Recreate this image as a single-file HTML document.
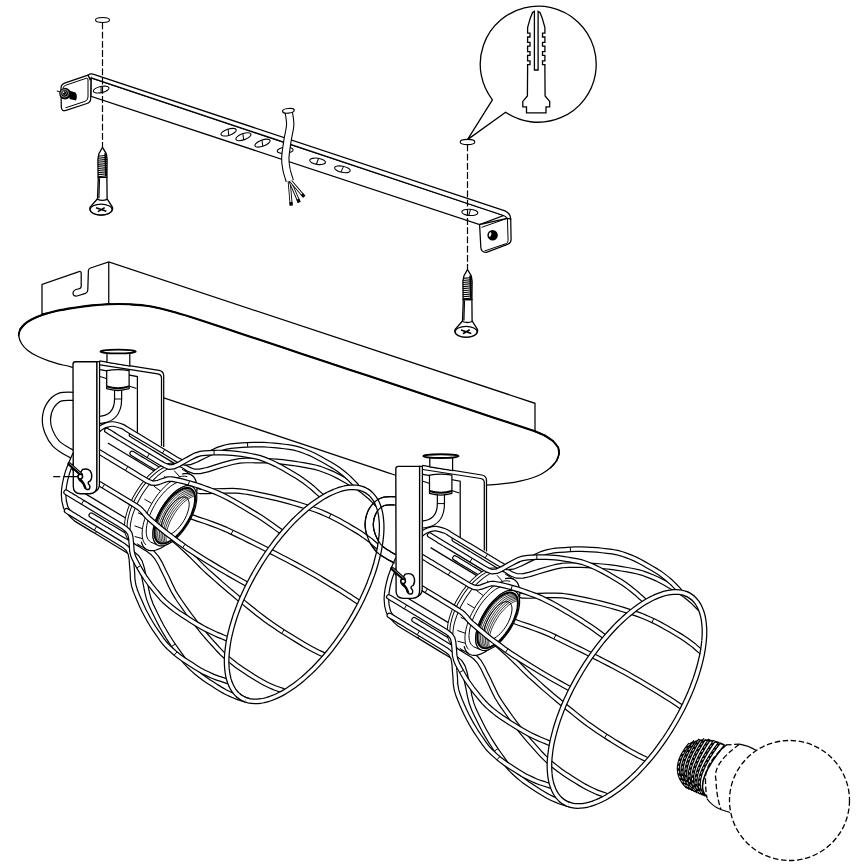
<!DOCTYPE html><html><head><meta charset="utf-8"><title>Assembly</title><style>html,body{margin:0;padding:0;background:#fff}svg{display:block}</style></head><body>
<svg width="868" height="868" viewBox="0 0 868 868">
<rect width="868" height="868" fill="#fff"/>
<defs><g id="lamp"><path d="M72.8 361.7L99.4 360.8L160.2 370.6L163.7 374.5L163.7 448L72.8 448Z" fill="#fff" stroke="none"/>
<path d="M99.4 360.8L159 370.4 Q163.7 371.3 163.7 376 L163.7 447" fill="none" stroke="#000" stroke-width="1.25" />
<path d="M100.1 364.9L157.8 373.9 Q161.5 374.6 161.5 378 L161.5 446" fill="none" stroke="#000" stroke-width="1.25" />
<path d="M100.1 369.7L137.4 376.6 L137.4 436" fill="none" stroke="#000" stroke-width="1.25" />
<path d="M100.1 376.6L136.5 388.5" fill="none" stroke="#000" stroke-width="1.1" />
<path d="M107 353L107 362.3L129.8 366L129.8 353Z" fill="#fff" stroke="#000" stroke-width="1.25" />
<ellipse cx="118.1" cy="351.5" rx="17.6" ry="1.9" fill="#fff" stroke="#000" stroke-width="1.9"/>
<path d="M118.1 388 L118.1 399 C118.1 412 112 420 97 420" fill="none" stroke="#000" stroke-width="8.30" stroke-linecap="butt" stroke-linejoin="round"/><path d="M118.1 388 L118.1 399 C118.1 412 112 420 97 420" fill="none" stroke="#fff" stroke-width="5.90" stroke-linecap="butt" stroke-linejoin="round"/>
<path d="M114.2 399 L122 399" fill="none" stroke="#000" stroke-width="1" />
<path d="M106.7 370.6L106.7 388.7 Q118 392.3 129.1 388.7 L129.1 370.6 Q118 368.6 106.7 370.6Z" fill="#fff" stroke="#000" stroke-width="1.25" />
<path d="M106.7 386.4 Q118 390 129.1 386.4" fill="none" stroke="#000" stroke-width="1.9" />
<path d="M78 396.5C75.1 396.6 65 395.4 60.4 397C55.8 398.6 52.5 402.1 50.2 405.8C47.9 409.5 46.6 414.9 46.4 419.2C46.2 423.5 47.3 427.9 48.9 431.9C50.5 435.9 52.9 440.2 55.8 443.4C58.6 446.5 62.3 448.5 66 450.8C69.7 453.1 76 456 78 457" fill="none" stroke="#000" stroke-width="9.40" stroke-linecap="butt" stroke-linejoin="round"/><path d="M78 396.5C75.1 396.6 65 395.4 60.4 397C55.8 398.6 52.5 402.1 50.2 405.8C47.9 409.5 46.6 414.9 46.4 419.2C46.2 423.5 47.3 427.9 48.9 431.9C50.5 435.9 52.9 440.2 55.8 443.4C58.6 446.5 62.3 448.5 66 450.8C69.7 453.1 76 456 78 457" fill="none" stroke="#fff" stroke-width="7.00" stroke-linecap="butt" stroke-linejoin="round"/>
<path d="M123.8 477.2C124.5 477.6 126.6 478.8 127.9 479.6C129.3 480.4 130.6 481.3 132 482.1C133.4 482.9 134.7 483.7 136.1 484.6C137.4 485.4 138.8 486.2 140.1 487C141.5 487.9 143.5 489.1 144.2 489.5L144.2 489.5 L148.3 492 L152.4 494.4 L156.5 496.9 L160.5 499.4 L164.6 501.8 L168.7 504.3 L172.8 506.8 L176.9 509.3 L181 511.7 L185.4 514.2 L190.9 516.5 L197.6 519 L205 521.4 L212.2 524 L219.4 526.7 L226.1 529.5 L232.1 532.3 L237.8 535.1 L243.4 537.8 L249 540.6 L254.5 543.3 L260 546 L265.3 548.7 L270.6 551.4 L275.8 554 L280.9 556.7 L286 559.3 L291.1 562 L296.1 564.6 L300.9 567.2 L305.4 569.7 L309.9 572.3 L314.4 574.8 L318.7 577.3 L322.8 579.8 L327 582.3 L331.1 584.8 L335.3 587.3 L339.3 589.7 L343.2 592.2 L347 594.6 L350.8 597 L354.3 599.4 L357.8 601.7" fill="none" stroke="#000" stroke-width="5.70" stroke-linecap="round" stroke-linejoin="round"/><path d="M123.8 477.2C124.5 477.6 126.6 478.8 127.9 479.6C129.3 480.4 130.6 481.3 132 482.1C133.4 482.9 134.7 483.7 136.1 484.6C137.4 485.4 138.8 486.2 140.1 487C141.5 487.9 143.5 489.1 144.2 489.5L144.2 489.5 L148.3 492 L152.4 494.4 L156.5 496.9 L160.5 499.4 L164.6 501.8 L168.7 504.3 L172.8 506.8 L176.9 509.3 L181 511.7 L185.4 514.2 L190.9 516.5 L197.6 519 L205 521.4 L212.2 524 L219.4 526.7 L226.1 529.5 L232.1 532.3 L237.8 535.1 L243.4 537.8 L249 540.6 L254.5 543.3 L260 546 L265.3 548.7 L270.6 551.4 L275.8 554 L280.9 556.7 L286 559.3 L291.1 562 L296.1 564.6 L300.9 567.2 L305.4 569.7 L309.9 572.3 L314.4 574.8 L318.7 577.3 L322.8 579.8 L327 582.3 L331.1 584.8 L335.3 587.3 L339.3 589.7 L343.2 592.2 L347 594.6 L350.8 597 L354.3 599.4 L357.8 601.7" fill="none" stroke="#fff" stroke-width="3.30" stroke-linecap="round" stroke-linejoin="round"/><path d="M233 530.4 L231.1 534.3" fill="none" stroke="#000" stroke-width="1" />
<path d="M108.9 499.8C109.6 500.2 111.6 501.4 113 502.2C114.3 503.1 115.7 503.9 117.1 504.7C118.4 505.5 119.8 506.3 121.1 507.2C122.5 508 123.9 508.8 125.2 509.6C126.6 510.5 128.6 511.7 129.3 512.1L129.3 512.1 L133.4 514.6 L137.4 517 L141.5 519.5 L145.6 522 L149.7 524.5 L153.8 526.9 L157.8 529.4 L161.9 531.9 L166 534.4 L170.3 537.2 L175 540.6 L180.3 545.2 L185.9 550.4 L191.4 555.6 L196.8 561 L201.9 566.2 L206.7 570.8 L211.5 575 L216.2 579.2 L220.8 583.3 L225.5 587.3 L230.1 591.3 L234.7 595.1 L239.2 598.9 L243.8 602.6 L248.3 606.2 L252.7 609.8 L257.2 613.4 L261.6 616.8 L266 620.1 L270.3 623.1 L274.5 626 L278.7 628.8 L282.9 631.6 L287 634.1 L291.1 636.7 L295.2 639.2 L299.3 641.7 L303.4 644.2 L307.4 646.5 L311.4 648.7 L315.3 650.8 L319.2 652.7 L323 654.4" fill="none" stroke="#000" stroke-width="5.70" stroke-linecap="round" stroke-linejoin="round"/><path d="M108.9 499.8C109.6 500.2 111.6 501.4 113 502.2C114.3 503.1 115.7 503.9 117.1 504.7C118.4 505.5 119.8 506.3 121.1 507.2C122.5 508 123.9 508.8 125.2 509.6C126.6 510.5 128.6 511.7 129.3 512.1L129.3 512.1 L133.4 514.6 L137.4 517 L141.5 519.5 L145.6 522 L149.7 524.5 L153.8 526.9 L157.8 529.4 L161.9 531.9 L166 534.4 L170.3 537.2 L175 540.6 L180.3 545.2 L185.9 550.4 L191.4 555.6 L196.8 561 L201.9 566.2 L206.7 570.8 L211.5 575 L216.2 579.2 L220.8 583.3 L225.5 587.3 L230.1 591.3 L234.7 595.1 L239.2 598.9 L243.8 602.6 L248.3 606.2 L252.7 609.8 L257.2 613.4 L261.6 616.8 L266 620.1 L270.3 623.1 L274.5 626 L278.7 628.8 L282.9 631.6 L287 634.1 L291.1 636.7 L295.2 639.2 L299.3 641.7 L303.4 644.2 L307.4 646.5 L311.4 648.7 L315.3 650.8 L319.2 652.7 L323 654.4" fill="none" stroke="#fff" stroke-width="3.30" stroke-linecap="round" stroke-linejoin="round"/><path d="M284.1 629.7 L281.7 633.4" fill="none" stroke="#000" stroke-width="1" />
<path d="M132.2 453.4C132.8 453.8 134.9 455 136.2 455.9C137.6 456.7 139 457.5 140.3 458.3C141.7 459.2 143.1 460 144.4 460.8C145.8 461.6 147.1 462.5 148.5 463.3C149.9 464.1 151.9 465.4 152.6 465.8L152.6 465.8 L156.7 468.2 L160.7 470.7 L164.8 473.2 L168.9 475.7 L173 478.1 L177.1 480.6 L181.2 483.1 L185.3 485.5 L189.4 488 L194 490.1 L200 491.3 L207.5 491.4 L215.9 491 L224.1 490.8 L232.3 490.7 L239.8 491.1 L246.5 492 L252.7 493.2 L258.9 494.5 L265 495.8 L271 497.1 L276.9 498.5 L282.7 500 L288.4 501.5 L294 503.1 L299.5 504.7 L304.9 506.4 L310.3 508.1 L315.6 509.9 L320.6 511.8 L325.4 513.9 L330 516 L334.5 518.2 L338.9 520.5 L343.1 522.9 L347.3 525.3 L351.5 527.8 L355.6 530.2 L359.7 532.7 L363.5 535.3 L367.2 538 L370.9 540.7 L374.2 543.7 L377.5 546.6" fill="none" stroke="#000" stroke-width="5.70" stroke-linecap="round" stroke-linejoin="round"/><path d="M132.2 453.4C132.8 453.8 134.9 455 136.2 455.9C137.6 456.7 139 457.5 140.3 458.3C141.7 459.2 143.1 460 144.4 460.8C145.8 461.6 147.1 462.5 148.5 463.3C149.9 464.1 151.9 465.4 152.6 465.8L152.6 465.8 L156.7 468.2 L160.7 470.7 L164.8 473.2 L168.9 475.7 L173 478.1 L177.1 480.6 L181.2 483.1 L185.3 485.5 L189.4 488 L194 490.1 L200 491.3 L207.5 491.4 L215.9 491 L224.1 490.8 L232.3 490.7 L239.8 491.1 L246.5 492 L252.7 493.2 L258.9 494.5 L265 495.8 L271 497.1 L276.9 498.5 L282.7 500 L288.4 501.5 L294 503.1 L299.5 504.7 L304.9 506.4 L310.3 508.1 L315.6 509.9 L320.6 511.8 L325.4 513.9 L330 516 L334.5 518.2 L338.9 520.5 L343.1 522.9 L347.3 525.3 L351.5 527.8 L355.6 530.2 L359.7 532.7 L363.5 535.3 L367.2 538 L370.9 540.7 L374.2 543.7 L377.5 546.6" fill="none" stroke="#fff" stroke-width="3.30" stroke-linecap="round" stroke-linejoin="round"/><path d="M330.9 514 L329.1 518" fill="none" stroke="#000" stroke-width="1" />
<path d="M91.3 515.2C92 515.6 94.1 516.8 95.4 517.6C96.8 518.5 98.2 519.3 99.5 520.1C100.9 520.9 102.2 521.8 103.6 522.6C105 523.4 106.3 524.2 107.7 525.1C109.1 525.9 111.1 527.1 111.8 527.5L111.8 527.5 L115.9 530 L120 532.5 L124.1 535 L128.1 537.4 L132.2 539.9 L136.3 542.4 L140.4 544.9 L144.5 547.4 L148.6 549.9 L152.6 552.9 L156.5 557.3 L160.1 563.3 L163.5 570.5 L167 577.5 L170.3 584.7 L173.6 591.5 L177.1 597.2 L180.7 602.5 L184.3 607.6 L187.9 612.7 L191.5 617.6 L195.2 622.4 L198.9 627.1 L202.6 631.6 L206.3 636 L210.1 640.3 L213.9 644.5 L217.6 648.7 L221.4 652.7 L225.3 656.4 L229.2 659.6 L233.2 662.8 L237.2 665.9 L241.2 668.7 L245.3 671.4 L249.3 674 L253.4 676.6 L257.5 679.1 L261.6 681.5 L265.7 683.7 L269.9 685.7 L274.1 687.6 L278.4 689.1 L282.6 690.5" fill="none" stroke="#000" stroke-width="5.70" stroke-linecap="round" stroke-linejoin="round"/><path d="M91.3 515.2C92 515.6 94.1 516.8 95.4 517.6C96.8 518.5 98.2 519.3 99.5 520.1C100.9 520.9 102.2 521.8 103.6 522.6C105 523.4 106.3 524.2 107.7 525.1C109.1 525.9 111.1 527.1 111.8 527.5L111.8 527.5 L115.9 530 L120 532.5 L124.1 535 L128.1 537.4 L132.2 539.9 L136.3 542.4 L140.4 544.9 L144.5 547.4 L148.6 549.9 L152.6 552.9 L156.5 557.3 L160.1 563.3 L163.5 570.5 L167 577.5 L170.3 584.7 L173.6 591.5 L177.1 597.2 L180.7 602.5 L184.3 607.6 L187.9 612.7 L191.5 617.6 L195.2 622.4 L198.9 627.1 L202.6 631.6 L206.3 636 L210.1 640.3 L213.9 644.5 L217.6 648.7 L221.4 652.7 L225.3 656.4 L229.2 659.6 L233.2 662.8 L237.2 665.9 L241.2 668.7 L245.3 671.4 L249.3 674 L253.4 676.6 L257.5 679.1 L261.6 681.5 L265.7 683.7 L269.9 685.7 L274.1 687.6 L278.4 689.1 L282.6 690.5" fill="none" stroke="#fff" stroke-width="3.30" stroke-linecap="round" stroke-linejoin="round"/><path d="M196.9 621.1 L193.5 623.8" fill="none" stroke="#000" stroke-width="1" />
<path d="M131.6 434.9C132.3 435.3 134.4 436.5 135.7 437.3C137.1 438.2 138.5 439 139.8 439.8C141.2 440.6 142.6 441.5 143.9 442.3C145.3 443.1 146.7 444 148 444.8C149.4 445.6 151.4 446.9 152.1 447.3L152.1 447.3 L156.2 449.7 L160.3 452.2 L164.4 454.7 L168.5 457.2 L172.6 459.7 L176.7 462.2 L180.8 464.6 L184.9 467.1 L189.1 469.5 L193.8 471.3 L199.8 471.4 L207.4 469.7 L215.8 467 L223.9 464.6 L232.1 462.3 L239.5 460.9 L246.1 460.5 L252.3 460.5 L258.4 460.6 L264.5 460.7 L270.5 461 L276.4 461.4 L282.2 461.9 L287.8 462.6 L293.4 463.3 L298.9 464.2 L304.3 465.1 L309.7 466.1 L315 467.2 L320 468.6 L324.7 470.4 L329.4 472.2 L333.9 474.2 L338.2 476.4 L342.5 478.7 L346.7 481.1 L350.8 483.5 L355 485.9 L359 488.4 L362.9 491.2 L366.6 494.2 L370.2 497.2 L373.5 500.6 L376.8 504" fill="none" stroke="#000" stroke-width="5.70" stroke-linecap="round" stroke-linejoin="round"/><path d="M131.6 434.9C132.3 435.3 134.4 436.5 135.7 437.3C137.1 438.2 138.5 439 139.8 439.8C141.2 440.6 142.6 441.5 143.9 442.3C145.3 443.1 146.7 444 148 444.8C149.4 445.6 151.4 446.9 152.1 447.3L152.1 447.3 L156.2 449.7 L160.3 452.2 L164.4 454.7 L168.5 457.2 L172.6 459.7 L176.7 462.2 L180.8 464.6 L184.9 467.1 L189.1 469.5 L193.8 471.3 L199.8 471.4 L207.4 469.7 L215.8 467 L223.9 464.6 L232.1 462.3 L239.5 460.9 L246.1 460.5 L252.3 460.5 L258.4 460.6 L264.5 460.7 L270.5 461 L276.4 461.4 L282.2 461.9 L287.8 462.6 L293.4 463.3 L298.9 464.2 L304.3 465.1 L309.7 466.1 L315 467.2 L320 468.6 L324.7 470.4 L329.4 472.2 L333.9 474.2 L338.2 476.4 L342.5 478.7 L346.7 481.1 L350.8 483.5 L355 485.9 L359 488.4 L362.9 491.2 L366.6 494.2 L370.2 497.2 L373.5 500.6 L376.8 504" fill="none" stroke="#fff" stroke-width="3.30" stroke-linecap="round" stroke-linejoin="round"/><path d="M264.6 458.5 L264.5 462.9" fill="none" stroke="#000" stroke-width="1" />
<path d="M74.5 455C73.2 458.2 68.8 467.7 67 474C65.2 480.3 63.8 487.5 63.6 493C63.4 498.5 64.4 503.5 65.6 507C66.8 510.5 68.8 511.8 70.5 513.8C72.2 515.8 75 518.3 75.9 519.2L75.9 519.2 L80 521.7 L84.1 524.2 L88.2 526.7 L92.3 529.2 L96.4 531.6 L100.5 534.1 L104.6 536.6 L108.7 539.1 L112.8 541.6 L116.9 544.1 L121 546.6 L125.1 549 L129.2 551.6 L133.3 554.2 L137.1 557.3 L140.1 562 L142.2 568.6 L143.8 576.2 L145.4 583.7 L146.9 591.5 L148.7 598.6 L151 604.6 L153.6 610.2 L156.2 615.5 L158.9 620.9 L161.6 626.1 L164.5 631.1 L167.4 636 L170.4 640.7 L173.4 645.3 L176.5 649.7 L179.7 654.1 L182.8 658.5 L186.1 662.6 L189.6 666.3 L193.3 669.7 L197 673 L200.8 676 L204.7 678.9 L208.7 681.6 L212.8 684.2 L216.8 686.8 L220.9 689.3 L225 691.7 L229.3 693.8 L233.7 695.7 L238.2 697.5 L242.9 698.9 L247.5 700.2" fill="none" stroke="#000" stroke-width="5.70" stroke-linecap="round" stroke-linejoin="round"/><path d="M74.5 455C73.2 458.2 68.8 467.7 67 474C65.2 480.3 63.8 487.5 63.6 493C63.4 498.5 64.4 503.5 65.6 507C66.8 510.5 68.8 511.8 70.5 513.8C72.2 515.8 75 518.3 75.9 519.2L75.9 519.2 L80 521.7 L84.1 524.2 L88.2 526.7 L92.3 529.2 L96.4 531.6 L100.5 534.1 L104.6 536.6 L108.7 539.1 L112.8 541.6 L116.9 544.1 L121 546.6 L125.1 549 L129.2 551.6 L133.3 554.2 L137.1 557.3 L140.1 562 L142.2 568.6 L143.8 576.2 L145.4 583.7 L146.9 591.5 L148.7 598.6 L151 604.6 L153.6 610.2 L156.2 615.5 L158.9 620.9 L161.6 626.1 L164.5 631.1 L167.4 636 L170.4 640.7 L173.4 645.3 L176.5 649.7 L179.7 654.1 L182.8 658.5 L186.1 662.6 L189.6 666.3 L193.3 669.7 L197 673 L200.8 676 L204.7 678.9 L208.7 681.6 L212.8 684.2 L216.8 686.8 L220.9 689.3 L225 691.7 L229.3 693.8 L233.7 695.7 L238.2 697.5 L242.9 698.9 L247.5 700.2" fill="none" stroke="#fff" stroke-width="3.30" stroke-linecap="round" stroke-linejoin="round"/><path d="M97.5 529.8 L95.3 533.5" fill="none" stroke="#000" stroke-width="1" /><path d="M175.2 644 L171.6 646.5" fill="none" stroke="#000" stroke-width="1" />
<path d="M362.6 488.9 L364.9 489.9 L367.2 491.2 L369.3 492.7 L371.2 494.4 L373 496.4 L374.6 498.5 L376.1 501 L377.4 503.6 L378.5 506.4 L379.5 509.4 L380.3 512.7 L380.9 516.1 L381.3 519.7 L381.6 523.5 L381.7 527.4 L381.6 531.5 L381.3 535.7 L380.8 540.1 L380.2 544.6 L379.4 549.2 L378.4 553.9 L377.2 558.7 L375.9 563.6 L374.4 568.6 L372.8 573.6 L370.9 578.7 L369 583.8 L366.9 588.9 L364.6 594 L362.2 599.2 L359.7 604.3 L357 609.4 L354.2 614.5 L351.3 619.5 L348.3 624.5 L345.2 629.4 L342 634.2 L338.7 638.9 L335.3 643.6 L331.9 648.1 L328.4 652.5 L324.8 656.7 L321.2 660.8 L317.5 664.8 L313.9 668.6 L310.1 672.2 L306.4 675.6 L302.7 678.9 L299 681.9 L295.3 684.8 L291.6 687.4 L287.9 689.9 L284.3 692.1 L280.7 694.1 L277.2 695.8 L273.7 697.3 L270.3 698.6 L267 699.7 L263.8 700.5 L260.7 701 L257.6 701.3 L254.7 701.4 L251.9 701.2 L249.2 700.8 L246.7 700.1 L244.2 699.2 L241.9 698 L239.8 696.6 L237.8 695" fill="none" stroke="#000" stroke-width="5.80" stroke-linecap="butt" stroke-linejoin="round"/><path d="M362.6 488.9 L364.9 489.9 L367.2 491.2 L369.3 492.7 L371.2 494.4 L373 496.4 L374.6 498.5 L376.1 501 L377.4 503.6 L378.5 506.4 L379.5 509.4 L380.3 512.7 L380.9 516.1 L381.3 519.7 L381.6 523.5 L381.7 527.4 L381.6 531.5 L381.3 535.7 L380.8 540.1 L380.2 544.6 L379.4 549.2 L378.4 553.9 L377.2 558.7 L375.9 563.6 L374.4 568.6 L372.8 573.6 L370.9 578.7 L369 583.8 L366.9 588.9 L364.6 594 L362.2 599.2 L359.7 604.3 L357 609.4 L354.2 614.5 L351.3 619.5 L348.3 624.5 L345.2 629.4 L342 634.2 L338.7 638.9 L335.3 643.6 L331.9 648.1 L328.4 652.5 L324.8 656.7 L321.2 660.8 L317.5 664.8 L313.9 668.6 L310.1 672.2 L306.4 675.6 L302.7 678.9 L299 681.9 L295.3 684.8 L291.6 687.4 L287.9 689.9 L284.3 692.1 L280.7 694.1 L277.2 695.8 L273.7 697.3 L270.3 698.6 L267 699.7 L263.8 700.5 L260.7 701 L257.6 701.3 L254.7 701.4 L251.9 701.2 L249.2 700.8 L246.7 700.1 L244.2 699.2 L241.9 698 L239.8 696.6 L237.8 695" fill="none" stroke="#fff" stroke-width="3.30" stroke-linecap="butt" stroke-linejoin="round"/>
<path d="M79.3 490.1 L78.3 489.3 L77.4 488.2 L76.7 486.8 L76.2 485.2 L75.9 483.4 L75.8 481.4 L75.9 479.2 L76.3 476.9 L76.8 474.4 L77.5 471.9 L78.4 469.3 L79.5 466.7 L80.8 464 L82.2 461.4 L83.7 458.9 L85.4 456.4 L87.1 454.1 L89 451.9 L90.9 449.9 L92.8 448 L94.7 446.4 L96.6 445.1 L98.5 443.9 L100.3 443.1 L102 442.5 L103.7 442.2 L105.2 442.2 L106.6 442.5 L107.8 443 L167.7 479.3 L166.5 478.7 L165.1 478.5 L163.6 478.5 L161.9 478.8 L160.2 479.4 L158.4 480.2 L156.5 481.3 L154.6 482.7 L152.7 484.3 L150.7 486.1 L148.9 488.1 L147 490.3 L145.3 492.7 L143.6 495.1 L142.1 497.7 L140.7 500.3 L139.4 502.9 L138.3 505.6 L137.4 508.2 L136.7 510.7 L136.1 513.1 L135.8 515.5 L135.7 517.7 L135.8 519.7 L136.1 521.5 L136.6 523.1 L137.3 524.4 L138.1 525.5 L139.2 526.3Z" fill="#fff" stroke="none"/>
<path d="M107.8 443 L167.7 479.3" fill="none" stroke="#000" stroke-width="1.25" />
<path d="M79.3 490.1 L139.2 526.3" fill="none" stroke="#000" stroke-width="1.25" />
<path d="M176.4 465.9 L178.1 467.2 L179.5 468.9 L180.6 471 L181.4 473.4 L181.8 476.2 L182 479.3 L181.8 482.7 L181.4 486.2 L180.6 490 L179.5 494 L178.1 498 L176.5 502.1 L174.6 506.2 L172.4 510.3 L170.1 514.3 L167.6 518.1 L164.9 521.8 L162.1 525.3 L159.2 528.5 L156.2 531.5 L153.2 534.1 L150.2 536.3 L147.3 538.2 L144.4 539.7 L141.6 540.8 L139 541.4 L136.6 541.7 L134.3 541.4 L132.3 540.8 L130.5 539.7 L129 538.2 L127.7 536.3 L126.8 534 L126.1 531.4 L125.8 528.5 L125.8 525.2 L126.1 521.7 L126.7 518.1 L127.7 514.2 L128.9 510.2 L130.4 506.1 L132.2 502 L134.2 497.9 L136.5 493.9 L138.9 490 L141.5 486.2 L144.3 482.6 L147.2 479.2 L150.1 476.1 L153.1 473.4 L156.1 470.9 L159 468.8 L161.9 467.1 L164.8 465.9 L167.5 465 L170 464.6 L172.4 464.6 L174.5 465 L176.4 465.9Z" fill="#fff" stroke="none"/>
<path d="M176.4 465.9 L178.1 467.2 L179.5 468.9 L180.6 471 L181.4 473.4 L181.8 476.2 L182 479.3 L181.8 482.7 L181.4 486.2 L180.6 490 L179.5 494 L178.1 498 L176.5 502.1 L174.6 506.2 L172.4 510.3 L170.1 514.3 L167.6 518.1 L164.9 521.8 L162.1 525.3 L159.2 528.5 L156.2 531.5 L153.2 534.1 L150.2 536.3 L147.3 538.2 L144.4 539.7 L141.6 540.8 L139 541.4 L136.6 541.7 L134.3 541.4 L132.3 540.8 L130.5 539.7 L129 538.2 L127.7 536.3 L126.8 534 L126.1 531.4 L125.8 528.5 L125.8 525.2 L126.1 521.7 L126.7 518.1 L127.7 514.2 L128.9 510.2 L130.4 506.1 L132.2 502 L134.2 497.9 L136.5 493.9 L138.9 490 L141.5 486.2 L144.3 482.6 L147.2 479.2 L150.1 476.1 L153.1 473.4 L156.1 470.9 L159 468.8 L161.9 467.1 L164.8 465.9 L167.5 465 L170 464.6 L172.4 464.6 L174.5 465 L176.4 465.9Z" fill="none" stroke="#000" stroke-width="3.60" stroke-linecap="butt" stroke-linejoin="round"/><path d="M176.4 465.9 L178.1 467.2 L179.5 468.9 L180.6 471 L181.4 473.4 L181.8 476.2 L182 479.3 L181.8 482.7 L181.4 486.2 L180.6 490 L179.5 494 L178.1 498 L176.5 502.1 L174.6 506.2 L172.4 510.3 L170.1 514.3 L167.6 518.1 L164.9 521.8 L162.1 525.3 L159.2 528.5 L156.2 531.5 L153.2 534.1 L150.2 536.3 L147.3 538.2 L144.4 539.7 L141.6 540.8 L139 541.4 L136.6 541.7 L134.3 541.4 L132.3 540.8 L130.5 539.7 L129 538.2 L127.7 536.3 L126.8 534 L126.1 531.4 L125.8 528.5 L125.8 525.2 L126.1 521.7 L126.7 518.1 L127.7 514.2 L128.9 510.2 L130.4 506.1 L132.2 502 L134.2 497.9 L136.5 493.9 L138.9 490 L141.5 486.2 L144.3 482.6 L147.2 479.2 L150.1 476.1 L153.1 473.4 L156.1 470.9 L159 468.8 L161.9 467.1 L164.8 465.9 L167.5 465 L170 464.6 L172.4 464.6 L174.5 465 L176.4 465.9Z" fill="none" stroke="#fff" stroke-width="1.70" stroke-linecap="butt" stroke-linejoin="round"/>
<path d="M182 469.2 L183.6 470.5 L185 472.2 L186.1 474.3 L186.9 476.8 L187.4 479.6 L187.6 482.7 L187.4 486 L186.9 489.6 L186.2 493.4 L185.1 497.3 L183.7 501.4 L182.1 505.5 L180.1 509.6 L178 513.6 L175.7 517.6 L173.1 521.5 L170.4 525.2 L167.6 528.7 L164.7 531.9 L161.7 534.8 L158.8 537.4 L155.8 539.7 L152.8 541.6 L150 543.1 L147.2 544.2 L144.6 544.8 L142.1 545 L139.9 544.8 L137.8 544.2 L136 543.1 L134.5 541.6 L133.3 539.7 L132.3 537.4 L131.7 534.8 L131.4 531.8 L131.4 528.6 L131.7 525.1 L132.3 521.4 L133.2 517.6 L134.5 513.6 L136 509.5 L137.8 505.4 L139.8 501.3 L142 497.3 L144.5 493.3 L147.1 489.6 L149.8 486 L152.7 482.6 L155.7 479.5 L158.6 476.7 L161.6 474.3 L164.6 472.2 L167.5 470.5 L170.3 469.2 L173 468.4 L175.6 467.9 L177.9 467.9 L180.1 468.4 L182 469.2Z" fill="#fff" stroke="none"/>
<path d="M182 469.2 L183.6 470.5 L185 472.2 L186.1 474.3 L186.9 476.8 L187.4 479.6 L187.6 482.7 L187.4 486 L186.9 489.6 L186.2 493.4 L185.1 497.3 L183.7 501.4 L182.1 505.5 L180.1 509.6 L178 513.6 L175.7 517.6 L173.1 521.5 L170.4 525.2 L167.6 528.7 L164.7 531.9 L161.7 534.8 L158.8 537.4 L155.8 539.7 L152.8 541.6 L150 543.1 L147.2 544.2 L144.6 544.8 L142.1 545 L139.9 544.8 L137.8 544.2 L136 543.1 L134.5 541.6 L133.3 539.7 L132.3 537.4 L131.7 534.8 L131.4 531.8 L131.4 528.6 L131.7 525.1 L132.3 521.4 L133.2 517.6 L134.5 513.6 L136 509.5 L137.8 505.4 L139.8 501.3 L142 497.3 L144.5 493.3 L147.1 489.6 L149.8 486 L152.7 482.6 L155.7 479.5 L158.6 476.7 L161.6 474.3 L164.6 472.2 L167.5 470.5 L170.3 469.2 L173 468.4 L175.6 467.9 L177.9 467.9 L180.1 468.4 L182 469.2Z" fill="none" stroke="#000" stroke-width="3.60" stroke-linecap="butt" stroke-linejoin="round"/><path d="M182 469.2 L183.6 470.5 L185 472.2 L186.1 474.3 L186.9 476.8 L187.4 479.6 L187.6 482.7 L187.4 486 L186.9 489.6 L186.2 493.4 L185.1 497.3 L183.7 501.4 L182.1 505.5 L180.1 509.6 L178 513.6 L175.7 517.6 L173.1 521.5 L170.4 525.2 L167.6 528.7 L164.7 531.9 L161.7 534.8 L158.8 537.4 L155.8 539.7 L152.8 541.6 L150 543.1 L147.2 544.2 L144.6 544.8 L142.1 545 L139.9 544.8 L137.8 544.2 L136 543.1 L134.5 541.6 L133.3 539.7 L132.3 537.4 L131.7 534.8 L131.4 531.8 L131.4 528.6 L131.7 525.1 L132.3 521.4 L133.2 517.6 L134.5 513.6 L136 509.5 L137.8 505.4 L139.8 501.3 L142 497.3 L144.5 493.3 L147.1 489.6 L149.8 486 L152.7 482.6 L155.7 479.5 L158.6 476.7 L161.6 474.3 L164.6 472.2 L167.5 470.5 L170.3 469.2 L173 468.4 L175.6 467.9 L177.9 467.9 L180.1 468.4 L182 469.2Z" fill="none" stroke="#fff" stroke-width="1.70" stroke-linecap="butt" stroke-linejoin="round"/>
<path d="M136.9 543.7 L135.2 542.3 L133.8 540.6 L132.7 538.5 L131.9 535.9 L131.5 533.1 L131.3 529.9 L131.5 526.5 L132 522.8 L132.9 518.9 L134 514.9 L135.5 510.8 L137.2 506.6 L139.2 502.4 L141.4 498.3 L143.9 494.3 L146.5 490.4 L149.3 486.7 L152.2 483.2 L155.1 480 L158.2 477.1 L161.2 474.6 L164.2 472.4 L167.2 470.7 L170.1 469.3 L172.8 468.4 L175.4 467.9 L177.8 467.9 L180 468.4 L182 469.2 L191.4 474.9 L189.4 474.1 L187.2 473.6 L184.8 473.6 L182.2 474.1 L179.5 475 L176.6 476.4 L173.6 478.1 L170.6 480.3 L167.6 482.8 L164.5 485.7 L161.6 488.9 L158.7 492.4 L155.9 496.1 L153.3 500 L150.8 504 L148.6 508.1 L146.6 512.3 L144.9 516.5 L143.4 520.6 L142.3 524.6 L141.4 528.5 L140.9 532.2 L140.7 535.6 L140.9 538.8 L141.3 541.6 L142.1 544.2 L143.2 546.3 L144.6 548 L146.3 549.4Z" fill="#fff" stroke="none"/>
<path d="M191.4 474.9 L193 476.2 L194.4 477.9 L195.5 480 L196.3 482.5 L196.8 485.3 L197 488.4 L196.8 491.7 L196.3 495.3 L195.6 499.1 L194.5 503 L193.1 507.1 L191.5 511.2 L189.6 515.3 L187.4 519.3 L185.1 523.3 L182.5 527.2 L179.8 530.9 L177 534.4 L174.1 537.6 L171.2 540.5 L168.2 543.1 L165.2 545.4 L162.2 547.3 L159.4 548.8 L156.6 549.9 L154 550.5 L151.5 550.7 L149.3 550.5 L147.2 549.8 L145.5 548.8 L143.9 547.3 L142.7 545.4 L141.7 543.1 L141.1 540.5 L140.8 537.5 L140.8 534.3 L141.1 530.8 L141.7 527.1 L142.6 523.3 L143.9 519.3 L145.4 515.2 L147.2 511.1 L149.2 507 L151.4 503 L153.9 499 L156.5 495.2 L159.3 491.7 L162.1 488.3 L165.1 485.2 L168 482.4 L171 480 L174 477.9 L176.9 476.2 L179.7 474.9 L182.4 474.1 L185 473.6 L187.3 473.6 L189.5 474.1 L191.4 474.9Z" fill="#fff" stroke="none"/>
<path d="M182.2 474.1 L184.1 473.7 L186 473.6 L187.8 473.7 L189.4 474.1 L190.9 474.7 L192.3 475.6 L193.5 476.7 L194.5 478 L195.4 479.6 L196 481.4 L196.5 483.5 L196.8 485.7 L197 488 L196.9 490.6 L196.6 493.3 L196.2 496.1 L195.6 499 L194.8 502 L193.8 505.1 L192.7 508.2 L191.4 511.4 L189.9 514.6 L188.3 517.7 L186.6 520.8 L184.7 523.9 L182.8 526.8 L180.7 529.7 L178.6 532.4 L176.4 535.1 L174.2 537.5 L171.9 539.8 L169.6 541.9 L167.3 543.8 L165 545.5 L162.7 547 L160.5 548.2 L158.3 549.2 L156.2 550 L154.2 550.5 L152.3 550.7 L150.5 550.7 L148.8 550.4 L147.3 549.9 L145.9 549.1 L144.6 548 L143.5 546.8 L142.6 545.2 L141.9 543.5 L141.3 541.6" fill="none" stroke="#000" stroke-width="1.25" />
<path d="M182 469.2 L191.4 474.9" fill="none" stroke="#000" stroke-width="1" />
<path d="M136.9 543.7 L146.3 549.4" fill="none" stroke="#000" stroke-width="1" />
<path d="M134.7 536.5 L142.7 538.7" fill="none" stroke="#000" stroke-width="1" />
<path d="M134.5 525.8 L142.5 528.7" fill="none" stroke="#000" stroke-width="1" />
<path d="M137.9 512.8 L145.7 516.4" fill="none" stroke="#000" stroke-width="1" />
<path d="M144.4 499.1 L151.8 503.5" fill="none" stroke="#000" stroke-width="1" />
<path d="M153.7 486 L160.6 491.1" fill="none" stroke="#000" stroke-width="1" />
<path d="M164.1 476 L170.4 481.8" fill="none" stroke="#000" stroke-width="1" />
<path d="M174.2 470.7 L179.8 476.8" fill="none" stroke="#000" stroke-width="1" />
<path d="M146 544.9 L145 543.9 L144.2 542.7 L143.5 541.3 L142.9 539.7 L142.5 538 L142.3 536.1 L142.1 534 L142.2 531.9 L142.4 529.6 L142.7 527.2 L143.2 524.8 L143.8 522.2 L144.6 519.6 L145.4 517 L146.5 514.3 L147.6 511.6 L148.9 508.9 L150.3 506.2 L151.8 503.6 L153.3 501 L155 498.4 L156.7 496 L158.5 493.6 L160.4 491.3 L162.3 489.2 L164.2 487.2 L166.2 485.3 L168.1 483.5 L170.1 482 L172.1 480.6 L174 479.4 L175.9 478.3 L177.7 477.5 L179.5 476.9 L181.2 476.4 L182.9 476.2 L184.5 476.2 L185.9 476.4 L187.3 476.7" fill="none" stroke="#000" stroke-width="1" />
<path d="M150.7 542.1 L149.4 541 L148.2 539.6 L147.3 537.9 L146.7 535.9 L146.3 533.6 L146.2 531 L146.4 528.3 L146.8 525.3 L147.5 522.2 L148.4 518.9 L149.6 515.6 L151 512.3 L152.6 508.9 L154.4 505.6 L156.3 502.3 L158.4 499.2 L160.7 496.2 L163 493.5 L165.4 490.9 L167.8 488.6 L170.3 486.5 L172.7 484.8 L175.1 483.4 L177.4 482.3 L179.6 481.5 L181.7 481.2 L183.7 481.2 L185.4 481.5 L187 482.2 L192.5 486.7 L190.9 486 L189.2 485.7 L187.3 485.7 L185.3 486 L183.2 486.8 L180.9 487.8 L178.6 489.2 L176.2 490.9 L173.8 492.9 L171.5 495.1 L169.1 497.6 L166.9 500.3 L164.7 503.2 L162.7 506.3 L160.8 509.4 L159 512.6 L157.5 515.9 L156.1 519.1 L155 522.4 L154.1 525.5 L153.4 528.5 L153 531.4 L152.9 534.1 L153 536.6 L153.3 538.8 L154 540.8 L154.8 542.5 L155.9 543.8 L157.2 544.9Z" fill="#fff" stroke="#000" stroke-width="1.00" />
<path d="M192.5 486.7 L193.8 487.7 L194.8 489 L195.7 490.7 L196.3 492.6 L196.7 494.8 L196.8 497.2 L196.7 499.8 L196.3 502.6 L195.7 505.6 L194.9 508.7 L193.8 511.8 L192.5 515 L191 518.2 L189.3 521.4 L187.5 524.5 L185.5 527.5 L183.4 530.4 L181.2 533.1 L179 535.7 L176.6 538 L174.3 540 L172 541.8 L169.7 543.2 L167.4 544.4 L165.3 545.3 L163.2 545.8 L161.3 545.9 L159.5 545.8 L158 545.2 L156.6 544.4 L155.4 543.2 L154.4 541.7 L153.6 540 L153.1 537.9 L152.9 535.6 L152.9 533.1 L153.1 530.4 L153.6 527.5 L154.4 524.5 L155.3 521.3 L156.5 518.2 L157.9 514.9 L159.5 511.7 L161.2 508.6 L163.1 505.5 L165.2 502.6 L167.3 499.8 L169.6 497.1 L171.9 494.7 L174.2 492.5 L176.5 490.6 L178.9 489 L181.1 487.7 L183.3 486.7 L185.4 486 L187.4 485.7 L189.3 485.7 L191 486 L192.5 486.7Z" fill="#fff" stroke="#000" stroke-width="1.20" />
<path d="M191.1 488.9 L192.3 489.9 L193.3 491.1 L194.1 492.6 L194.7 494.4 L195 496.4 L195.1 498.6 L195 501 L194.7 503.6 L194.1 506.4 L193.3 509.2 L192.3 512.1 L191.2 515.1 L189.8 518 L188.2 521 L186.5 523.8 L184.7 526.6 L182.8 529.3 L180.7 531.8 L178.6 534.1 L176.5 536.3 L174.3 538.1 L172.2 539.8 L170.1 541.1 L168 542.2 L166 543 L164.1 543.5 L162.3 543.6 L160.7 543.5 L159.2 543 L158 542.2 L156.9 541.1 L156 539.8 L155.3 538.1 L154.8 536.2 L154.6 534.1 L154.6 531.8 L154.8 529.2 L155.2 526.6 L155.9 523.8 L156.8 520.9 L157.9 518 L159.2 515 L160.6 512.1 L162.3 509.1 L164 506.3 L165.9 503.6 L167.9 501 L170 498.6 L172.1 496.3 L174.3 494.3 L176.4 492.6 L178.6 491.1 L180.7 489.8 L182.7 488.9 L184.6 488.3 L186.5 488 L188.2 488 L189.7 488.3 L191.1 488.9Z" fill="#fff" stroke="#000" stroke-width="2.00" />
<clipPath id="rimclip"><path d="M190.7 489.6 L191.9 490.5 L192.8 491.7 L193.6 493.2 L194.2 494.9 L194.5 496.9 L194.6 499 L194.5 501.4 L194.2 503.9 L193.6 506.6 L192.9 509.4 L191.9 512.2 L190.7 515.1 L189.4 518 L187.9 520.8 L186.2 523.6 L184.5 526.4 L182.6 528.9 L180.6 531.4 L178.5 533.7 L176.5 535.7 L174.4 537.6 L172.3 539.2 L170.2 540.5 L168.2 541.5 L166.2 542.3 L164.4 542.8 L162.7 542.9 L161.1 542.8 L159.6 542.3 L158.4 541.5 L157.3 540.5 L156.4 539.1 L155.8 537.5 L155.3 535.7 L155.1 533.6 L155.1 531.4 L155.3 528.9 L155.7 526.3 L156.4 523.6 L157.3 520.8 L158.3 517.9 L159.6 515 L161 512.2 L162.6 509.3 L164.3 506.5 L166.2 503.9 L168.1 501.4 L170.1 499 L172.2 496.8 L174.3 494.9 L176.4 493.1 L178.5 491.7 L180.5 490.5 L182.5 489.6 L184.4 489 L186.2 488.7 L187.8 488.7 L189.3 489 L190.7 489.6Z"/></clipPath>
<g clip-path="url(#rimclip)"><path d="M168.2 543.1 L166.3 543.7 L164.5 544 L162.8 544 L161.3 543.6 L159.9 543 L158.7 542 L157.8 540.7 L157 539.2 L156.5 537.4 L156.2 535.4 L156.1 533.1 L156.2 530.7 L156.6 528 L157.2 525.3 L158 522.5 L159.1 519.5 L160.3 516.6 L161.7 513.6 L163.3 510.7 L165 507.9 L166.9 505.1 L168.8 502.5 L170.9 500.1 L173 497.8 L175.1 495.8 L177.3 494 L179.4 492.4 L181.5 491.1 L183.5 490.2 L185.5 489.5 L187.3 489.1 L189.1 489.1 L190.6 489.4 L192 489.9 L193.2 490.8 L194.3 492 L195.1 493.5 L195.7 495.2 L196 497.2" fill="none" stroke="#000" stroke-width="0.8" /><path d="M169.7 543.8 L167.8 544.4 L166 544.6 L164.4 544.6 L162.9 544.3 L161.5 543.6 L160.4 542.6 L159.4 541.4 L158.7 539.9 L158.1 538.1 L157.8 536.1 L157.7 533.8 L157.9 531.4 L158.3 528.8 L158.9 526.1 L159.7 523.3 L160.7 520.4 L161.9 517.5 L163.3 514.6 L164.9 511.7 L166.6 508.8 L168.4 506.1 L170.4 503.5 L172.4 501.1 L174.5 498.9 L176.6 496.8 L178.7 495 L180.8 493.5 L182.9 492.3 L184.9 491.3 L186.9 490.6 L188.7 490.3 L190.4 490.2 L191.9 490.5 L193.3 491.1 L194.5 492 L195.5 493.1 L196.3 494.6 L196.9 496.3 L197.3 498.3" fill="none" stroke="#000" stroke-width="0.8" /><path d="M171.3 544.4 L169.4 545 L167.6 545.3 L166 545.2 L164.5 544.9 L163.1 544.2 L162 543.3 L161 542 L160.3 540.5 L159.8 538.8 L159.5 536.8 L159.4 534.5 L159.5 532.1 L159.9 529.6 L160.5 526.9 L161.3 524.1 L162.3 521.2 L163.5 518.4 L164.9 515.5 L166.4 512.6 L168.1 509.8 L170 507.1 L171.9 504.6 L173.9 502.1 L175.9 499.9 L178 497.9 L180.2 496.1 L182.2 494.6 L184.3 493.4 L186.3 492.4 L188.2 491.8 L190 491.4 L191.7 491.4 L193.2 491.6 L194.6 492.2 L195.8 493.1 L196.8 494.3 L197.6 495.7 L198.2 497.4 L198.5 499.4" fill="none" stroke="#000" stroke-width="0.8" /><path d="M172.8 545 L170.9 545.6 L169.2 545.9 L167.5 545.8 L166.1 545.5 L164.7 544.8 L163.6 543.9 L162.7 542.7 L161.9 541.2 L161.4 539.4 L161.1 537.5 L161 535.3 L161.2 532.9 L161.5 530.3 L162.1 527.7 L162.9 524.9 L163.9 522.1 L165.1 519.2 L166.5 516.4 L168 513.5 L169.7 510.8 L171.5 508.1 L173.4 505.6 L175.4 503.2 L177.4 501 L179.5 499 L181.6 497.2 L183.7 495.7 L185.7 494.5 L187.7 493.6 L189.6 492.9 L191.4 492.6 L193 492.5 L194.6 492.8 L195.9 493.4 L197.1 494.2 L198.1 495.4 L198.9 496.8 L199.5 498.5 L199.8 500.4" fill="none" stroke="#000" stroke-width="0.8" /><path d="M174.3 545.6 L172.5 546.2 L170.7 546.5 L169.1 546.4 L167.7 546.1 L166.3 545.5 L165.2 544.5 L164.3 543.3 L163.6 541.8 L163.1 540.1 L162.8 538.2 L162.7 536 L162.8 533.6 L163.2 531.1 L163.8 528.5 L164.6 525.7 L165.6 522.9 L166.7 520.1 L168.1 517.3 L169.6 514.5 L171.3 511.7 L173 509.1 L174.9 506.6 L176.9 504.2 L178.9 502.1 L181 500.1 L183 498.3 L185.1 496.9 L187.1 495.6 L189.1 494.7 L190.9 494.1 L192.7 493.7 L194.4 493.7 L195.9 493.9 L197.2 494.5 L198.4 495.4 L199.4 496.5 L200.1 497.9 L200.7 499.6 L201.1 501.5" fill="none" stroke="#000" stroke-width="0.8" /><path d="M175.9 546.3 L174 546.8 L172.3 547.1 L170.7 547.1 L169.2 546.7 L168 546.1 L166.8 545.2 L165.9 544 L165.2 542.5 L164.7 540.8 L164.4 538.9 L164.3 536.7 L164.5 534.4 L164.8 531.9 L165.4 529.3 L166.2 526.6 L167.2 523.8 L168.3 521 L169.7 518.2 L171.2 515.4 L172.8 512.7 L174.6 510.1 L176.5 507.6 L178.4 505.3 L180.4 503.1 L182.4 501.2 L184.5 499.4 L186.5 498 L188.5 496.8 L190.5 495.8 L192.3 495.2 L194.1 494.9 L195.7 494.8 L197.2 495.1 L198.5 495.6 L199.7 496.5 L200.6 497.6 L201.4 499 L202 500.7 L202.3 502.6" fill="none" stroke="#000" stroke-width="0.8" /><path d="M177.4 546.9 L175.6 547.4 L173.9 547.7 L172.3 547.7 L170.8 547.3 L169.6 546.7 L168.5 545.8 L167.6 544.6 L166.8 543.2 L166.3 541.5 L166.1 539.5 L166 537.4 L166.1 535.1 L166.5 532.7 L167 530.1 L167.8 527.4 L168.8 524.6 L169.9 521.9 L171.3 519.1 L172.8 516.4 L174.4 513.7 L176.1 511.1 L178 508.6 L179.9 506.3 L181.9 504.2 L183.9 502.2 L185.9 500.5 L187.9 499.1 L189.9 497.9 L191.8 497 L193.7 496.3 L195.4 496 L197 496 L198.5 496.2 L199.8 496.8 L201 497.6 L201.9 498.7 L202.7 500.1 L203.2 501.8 L203.6 503.6" fill="none" stroke="#000" stroke-width="0.8" /><path d="M186.4 497.6 L187.4 498.4 L188.1 499.5 L188.7 500.9 L189.1 502.5 L189.2 504.3 L189.1 506.3 L188.7 508.5 L188.1 510.8 L187.4 513.2 L186.4 515.6 L185.3 518.1 L183.9 520.5 L182.5 522.8 L180.9 525 L179.2 527.1 L177.5 529 L175.7 530.7 L173.9 532.1 L172.2 533.3 L170.5 534.2 L168.8 534.8 L167.3 535.1 L165.9 535.1 L164.7 534.7 L163.6 534.1 L162.7 533.1 L162.1 531.9 L161.6 530.4 L161.4 528.7 L161.4 526.8 L161.6 524.7 L162.1 522.4 L162.7 520.1 L163.6 517.7 L164.7 515.2 L165.9 512.8 L167.3 510.4 L168.8 508.1 L170.5 506 L172.2 504 L173.9 502.2 L175.7 500.6 L177.5 499.3 L179.2 498.3 L180.9 497.5 L182.5 497.1 L183.9 497 L185.3 497.2 L186.4 497.6Z" fill="none" stroke="#000" stroke-width="1" /></g>
<path d="M96 432C96.8 431.3 98.8 429.1 100.5 428C102.2 426.9 103.9 426 106 425.3C108.1 424.6 110.3 423.8 113 424C115.7 424.2 120.1 425.7 122.4 426.5C124.6 427.3 125.8 428.6 126.5 429L126.5 429 L130.6 431.5 L134.7 434 L138.9 436.5 L143 439 L147.1 441.4 L151.2 443.9 L155.3 446.4 L159.4 448.9 L163.6 451.4 L167.7 453.9 L171.8 456.4 L175.9 458.9 L180.1 461.2 L184.7 462.9 L190.4 462.3 L197.1 459.6 L204.4 456 L211.5 452.5 L218.6 449.2 L225 447.2 L230.8 446.1 L236.5 445.6 L242.1 445.2 L247.6 444.8 L253.1 444.6 L258.5 444.6 L263.8 444.7 L269 445 L274.2 445.3 L279.3 445.9 L284.4 446.5 L289.4 447.1 L294.4 448 L299.1 449.3 L303.6 450.9 L308.1 452.6 L312.5 454.5 L316.8 456.7 L321 459 L325.2 461.4 L329.4 463.8 L333.5 466.2 L337.6 468.8 L341.5 471.8 L345.3 474.8 L349 478.1 L352.6 481.7 L356.1 485.3" fill="none" stroke="#000" stroke-width="5.70" stroke-linecap="round" stroke-linejoin="round"/><path d="M96 432C96.8 431.3 98.8 429.1 100.5 428C102.2 426.9 103.9 426 106 425.3C108.1 424.6 110.3 423.8 113 424C115.7 424.2 120.1 425.7 122.4 426.5C124.6 427.3 125.8 428.6 126.5 429L126.5 429 L130.6 431.5 L134.7 434 L138.9 436.5 L143 439 L147.1 441.4 L151.2 443.9 L155.3 446.4 L159.4 448.9 L163.6 451.4 L167.7 453.9 L171.8 456.4 L175.9 458.9 L180.1 461.2 L184.7 462.9 L190.4 462.3 L197.1 459.6 L204.4 456 L211.5 452.5 L218.6 449.2 L225 447.2 L230.8 446.1 L236.5 445.6 L242.1 445.2 L247.6 444.8 L253.1 444.6 L258.5 444.6 L263.8 444.7 L269 445 L274.2 445.3 L279.3 445.9 L284.4 446.5 L289.4 447.1 L294.4 448 L299.1 449.3 L303.6 450.9 L308.1 452.6 L312.5 454.5 L316.8 456.7 L321 459 L325.2 461.4 L329.4 463.8 L333.5 466.2 L337.6 468.8 L341.5 471.8 L345.3 474.8 L349 478.1 L352.6 481.7 L356.1 485.3" fill="none" stroke="#fff" stroke-width="3.30" stroke-linecap="round" stroke-linejoin="round"/><path d="M164.7 449.5 L162.4 453.3" fill="none" stroke="#000" stroke-width="1" /><path d="M247.5 442.6 L247.7 447" fill="none" stroke="#000" stroke-width="1" />
<path d="M66.6 510.8C67.3 511.3 69.4 512.5 70.8 513.3C72.1 514.2 73.5 515 74.9 515.8C76.2 516.7 77.6 517.5 79 518.3C80.4 519.2 81.7 520 83.1 520.8C84.5 521.7 86.6 522.9 87.2 523.3L87.2 523.3 L91.4 525.8 L95.5 528.3 L99.6 530.8 L103.7 533.3 L107.9 535.8 L112 538.3 L116.1 540.8 L120.2 543.3 L124.2 545.9 L127.9 549 L130.3 553.4 L131.4 559.3 L131.8 565.9 L132.4 572.5 L132.7 579.3 L133.7 585.4 L135.4 590.8 L137.4 595.8 L139.5 600.7 L141.6 605.5 L143.8 610.2 L146.2 614.8 L148.6 619.2 L151.2 623.6 L153.8 627.8 L156.6 631.9 L159.4 635.9 L162.2 640 L165.2 643.8 L168.5 647.2 L172 650.4 L175.6 653.6 L179.3 656.5 L183.2 659.3 L187.2 661.9 L191.3 664.5 L195.3 667.1 L199.4 669.6 L203.6 672 L208.1 674.1 L212.6 676.2 L217.3 678 L222.2 679.5 L227.1 681.2" fill="none" stroke="#000" stroke-width="5.70" stroke-linecap="round" stroke-linejoin="round"/><path d="M66.6 510.8C67.3 511.3 69.4 512.5 70.8 513.3C72.1 514.2 73.5 515 74.9 515.8C76.2 516.7 77.6 517.5 79 518.3C80.4 519.2 81.7 520 83.1 520.8C84.5 521.7 86.6 522.9 87.2 523.3L87.2 523.3 L91.4 525.8 L95.5 528.3 L99.6 530.8 L103.7 533.3 L107.9 535.8 L112 538.3 L116.1 540.8 L120.2 543.3 L124.2 545.9 L127.9 549 L130.3 553.4 L131.4 559.3 L131.8 565.9 L132.4 572.5 L132.7 579.3 L133.7 585.4 L135.4 590.8 L137.4 595.8 L139.5 600.7 L141.6 605.5 L143.8 610.2 L146.2 614.8 L148.6 619.2 L151.2 623.6 L153.8 627.8 L156.6 631.9 L159.4 635.9 L162.2 640 L165.2 643.8 L168.5 647.2 L172 650.4 L175.6 653.6 L179.3 656.5 L183.2 659.3 L187.2 661.9 L191.3 664.5 L195.3 667.1 L199.4 669.6 L203.6 672 L208.1 674.1 L212.6 676.2 L217.3 678 L222.2 679.5 L227.1 681.2" fill="none" stroke="#fff" stroke-width="3.30" stroke-linecap="round" stroke-linejoin="round"/><path d="M96.6 526.4 L94.4 530.2" fill="none" stroke="#000" stroke-width="1" /><path d="M177 651.9 L174.2 655.2" fill="none" stroke="#000" stroke-width="1" />
<path d="M106.9 430.5C107.6 431 109.7 432.2 111 433C112.4 433.9 113.8 434.7 115.2 435.6C116.6 436.4 117.9 437.2 119.3 438.1C120.7 438.9 122.1 439.7 123.4 440.6C124.8 441.4 126.9 442.6 127.6 443.1L127.6 443.1 L131.7 445.6 L135.8 448.1 L140 450.6 L144.1 453.1 L148.2 455.6 L152.4 458.1 L156.5 460.6 L160.7 463.1 L164.8 465.4 L169.2 467.1 L174 466.6 L179.2 464.2 L184.6 461 L189.9 458.1 L195.1 455.3 L200 453.7 L204.7 453.1 L209.4 452.8 L214 452.6 L218.6 452.5 L223.2 452.6 L227.8 452.8 L232.3 453.1 L236.8 453.6 L241.3 454.2 L245.8 454.9 L250.2 455.7 L254.7 456.5 L259.1 457.5 L263.4 459 L267.7 460.7 L271.9 462.6 L276.1 464.6 L280.3 466.8 L284.5 469.1 L288.6 471.5 L292.8 474 L296.9 476.4 L301 479.1 L305.1 482 L309.1 485.1 L313.1 488.3 L317 491.9 L321 495.3" fill="none" stroke="#000" stroke-width="5.70" stroke-linecap="round" stroke-linejoin="round"/><path d="M106.9 430.5C107.6 431 109.7 432.2 111 433C112.4 433.9 113.8 434.7 115.2 435.6C116.6 436.4 117.9 437.2 119.3 438.1C120.7 438.9 122.1 439.7 123.4 440.6C124.8 441.4 126.9 442.6 127.6 443.1L127.6 443.1 L131.7 445.6 L135.8 448.1 L140 450.6 L144.1 453.1 L148.2 455.6 L152.4 458.1 L156.5 460.6 L160.7 463.1 L164.8 465.4 L169.2 467.1 L174 466.6 L179.2 464.2 L184.6 461 L189.9 458.1 L195.1 455.3 L200 453.7 L204.7 453.1 L209.4 452.8 L214 452.6 L218.6 452.5 L223.2 452.6 L227.8 452.8 L232.3 453.1 L236.8 453.6 L241.3 454.2 L245.8 454.9 L250.2 455.7 L254.7 456.5 L259.1 457.5 L263.4 459 L267.7 460.7 L271.9 462.6 L276.1 464.6 L280.3 466.8 L284.5 469.1 L288.6 471.5 L292.8 474 L296.9 476.4 L301 479.1 L305.1 482 L309.1 485.1 L313.1 488.3 L317 491.9 L321 495.3" fill="none" stroke="#fff" stroke-width="3.30" stroke-linecap="round" stroke-linejoin="round"/><path d="M149.4 453.7 L147.1 457.5" fill="none" stroke="#000" stroke-width="1" /><path d="M214 450.4 L214.1 454.8" fill="none" stroke="#000" stroke-width="1" />
<path d="M66.1 492.3C66.8 492.7 68.9 494 70.2 494.8C71.6 495.6 73 496.5 74.4 497.3C75.8 498.1 77.1 499 78.5 499.8C79.9 500.6 81.3 501.5 82.6 502.3C84 503.2 86.1 504.4 86.8 504.8L86.8 504.8 L90.9 507.3 L95.1 509.8 L99.2 512.3 L103.3 514.8 L107.5 517.4 L111.6 519.9 L115.8 522.4 L119.9 524.9 L123.9 527.4 L127.5 530.2 L129.8 533.5 L130.8 537.6 L131.2 542 L131.6 546.4 L131.9 551 L132.9 555.3 L134.6 559.3 L136.6 563.1 L138.7 566.8 L140.8 570.5 L143 574.2 L145.3 577.7 L147.8 581.2 L150.3 584.7 L153 588 L155.7 591.4 L158.5 594.7 L161.3 598 L164.3 601.1 L167.7 604.1 L171.2 607 L174.8 609.8 L178.6 612.5 L182.5 615.1 L186.5 617.7 L190.6 620.3 L194.6 622.8 L198.8 625.3 L203 627.7 L207.5 630.1 L212.1 632.3 L216.8 634.5 L221.8 636.5 L226.6 638.6" fill="none" stroke="#000" stroke-width="5.70" stroke-linecap="round" stroke-linejoin="round"/><path d="M66.1 492.3C66.8 492.7 68.9 494 70.2 494.8C71.6 495.6 73 496.5 74.4 497.3C75.8 498.1 77.1 499 78.5 499.8C79.9 500.6 81.3 501.5 82.6 502.3C84 503.2 86.1 504.4 86.8 504.8L86.8 504.8 L90.9 507.3 L95.1 509.8 L99.2 512.3 L103.3 514.8 L107.5 517.4 L111.6 519.9 L115.8 522.4 L119.9 524.9 L123.9 527.4 L127.5 530.2 L129.8 533.5 L130.8 537.6 L131.2 542 L131.6 546.4 L131.9 551 L132.9 555.3 L134.6 559.3 L136.6 563.1 L138.7 566.8 L140.8 570.5 L143 574.2 L145.3 577.7 L147.8 581.2 L150.3 584.7 L153 588 L155.7 591.4 L158.5 594.7 L161.3 598 L164.3 601.1 L167.7 604.1 L171.2 607 L174.8 609.8 L178.6 612.5 L182.5 615.1 L186.5 617.7 L190.6 620.3 L194.6 622.8 L198.8 625.3 L203 627.7 L207.5 630.1 L212.1 632.3 L216.8 634.5 L221.8 636.5 L226.6 638.6" fill="none" stroke="#fff" stroke-width="3.30" stroke-linecap="round" stroke-linejoin="round"/><path d="M83.8 500.4 L81.5 504.2" fill="none" stroke="#000" stroke-width="1" /><path d="M140.6 565.7 L136.7 567.9" fill="none" stroke="#000" stroke-width="1" />
<path d="M89.4 445.9C90 446.4 92.1 447.6 93.5 448.4C94.9 449.3 96.3 450.1 97.6 451C99 451.8 100.4 452.6 101.8 453.5C103.2 454.3 104.6 455.1 105.9 456C107.3 456.8 109.4 458.1 110.1 458.5L110.1 458.5 L114.2 461 L118.4 463.5 L122.5 466 L126.7 468.5 L130.8 471 L134.9 473.5 L139.1 476.1 L143.2 478.5 L147.3 481 L151.4 482.8 L155.1 483.2 L158.5 482.4 L161.8 481.1 L165 480 L168.1 479.1 L171.3 479 L174.7 479.6 L178.3 480.3 L181.8 481.1 L185.3 482 L188.9 482.9 L192.5 484 L196.2 485.1 L199.8 486.3 L203.5 487.6 L207.3 489 L211 490.4 L214.8 491.8 L218.6 493.4 L222.5 495.3 L226.5 497.3 L230.5 499.4 L234.5 501.6 L238.6 504 L242.7 506.4 L246.8 508.8 L250.9 511.3 L255.1 513.8 L259.3 516.4 L263.5 519.2 L267.8 522.1 L272.1 525.1 L276.5 528.3 L280.8 531.4" fill="none" stroke="#000" stroke-width="5.70" stroke-linecap="round" stroke-linejoin="round"/><path d="M89.4 445.9C90 446.4 92.1 447.6 93.5 448.4C94.9 449.3 96.3 450.1 97.6 451C99 451.8 100.4 452.6 101.8 453.5C103.2 454.3 104.6 455.1 105.9 456C107.3 456.8 109.4 458.1 110.1 458.5L110.1 458.5 L114.2 461 L118.4 463.5 L122.5 466 L126.7 468.5 L130.8 471 L134.9 473.5 L139.1 476.1 L143.2 478.5 L147.3 481 L151.4 482.8 L155.1 483.2 L158.5 482.4 L161.8 481.1 L165 480 L168.1 479.1 L171.3 479 L174.7 479.6 L178.3 480.3 L181.8 481.1 L185.3 482 L188.9 482.9 L192.5 484 L196.2 485.1 L199.8 486.3 L203.5 487.6 L207.3 489 L211 490.4 L214.8 491.8 L218.6 493.4 L222.5 495.3 L226.5 497.3 L230.5 499.4 L234.5 501.6 L238.6 504 L242.7 506.4 L246.8 508.8 L250.9 511.3 L255.1 513.8 L259.3 516.4 L263.5 519.2 L267.8 522.1 L272.1 525.1 L276.5 528.3 L280.8 531.4" fill="none" stroke="#fff" stroke-width="3.30" stroke-linecap="round" stroke-linejoin="round"/><path d="M127.8 466.6 L125.5 470.4" fill="none" stroke="#000" stroke-width="1" /><path d="M189.5 480.8 L188.3 485" fill="none" stroke="#000" stroke-width="1" />
<path d="M74.4 468.5C75.1 469 77.2 470.2 78.6 471.1C79.9 471.9 81.3 472.7 82.7 473.6C84.1 474.4 85.5 475.2 86.9 476.1C88.2 476.9 89.6 477.7 91 478.6C92.4 479.4 94.5 480.7 95.1 481.1L95.1 481.1 L99.3 483.6 L103.4 486.1 L107.6 488.6 L111.7 491.1 L115.9 493.6 L120 496.2 L124.2 498.7 L128.3 501.2 L132.4 503.7 L136.1 506 L138.9 507.8 L140.7 509.4 L142.1 510.9 L143.6 512.4 L144.9 514.2 L146.7 516.3 L149 518.5 L151.6 520.7 L154.2 523 L156.8 525.2 L159.5 527.5 L162.3 529.8 L165.2 532.1 L168.1 534.4 L171.2 536.7 L174.3 539 L177.4 541.3 L180.6 543.7 L183.9 546 L187.4 548.5 L191.1 550.9 L194.9 553.3 L198.8 555.8 L202.8 558.3 L206.8 560.8 L210.9 563.3 L215 565.8 L219.1 568.3 L223.4 570.8 L227.8 573.4 L232.3 575.9 L236.9 578.5 L241.7 581.2 L246.3 583.7" fill="none" stroke="#000" stroke-width="5.70" stroke-linecap="round" stroke-linejoin="round"/><path d="M74.4 468.5C75.1 469 77.2 470.2 78.6 471.1C79.9 471.9 81.3 472.7 82.7 473.6C84.1 474.4 85.5 475.2 86.9 476.1C88.2 476.9 89.6 477.7 91 478.6C92.4 479.4 94.5 480.7 95.1 481.1L95.1 481.1 L99.3 483.6 L103.4 486.1 L107.6 488.6 L111.7 491.1 L115.9 493.6 L120 496.2 L124.2 498.7 L128.3 501.2 L132.4 503.7 L136.1 506 L138.9 507.8 L140.7 509.4 L142.1 510.9 L143.6 512.4 L144.9 514.2 L146.7 516.3 L149 518.5 L151.6 520.7 L154.2 523 L156.8 525.2 L159.5 527.5 L162.3 529.8 L165.2 532.1 L168.1 534.4 L171.2 536.7 L174.3 539 L177.4 541.3 L180.6 543.7 L183.9 546 L187.4 548.5 L191.1 550.9 L194.9 553.3 L198.8 555.8 L202.8 558.3 L206.8 560.8 L210.9 563.3 L215 565.8 L219.1 568.3 L223.4 570.8 L227.8 573.4 L232.3 575.9 L236.9 578.5 L241.7 581.2 L246.3 583.7" fill="none" stroke="#fff" stroke-width="3.30" stroke-linecap="round" stroke-linejoin="round"/><path d="M104.6 484.2 L102.3 488" fill="none" stroke="#000" stroke-width="1" /><path d="M185.1 544.2 L182.6 547.9" fill="none" stroke="#000" stroke-width="1" />
<path d="M245.7 699.8 L243.4 698.8 L241.1 697.5 L239 696 L237.1 694.3 L235.3 692.3 L233.7 690.2 L232.2 687.7 L230.9 685.1 L229.8 682.3 L228.8 679.3 L228 676 L227.4 672.6 L227 669 L226.7 665.2 L226.6 661.3 L226.7 657.2 L227 653 L227.5 648.6 L228.1 644.1 L228.9 639.5 L229.9 634.8 L231.1 630 L232.4 625.1 L233.9 620.1 L235.5 615.1 L237.4 610 L239.3 604.9 L241.4 599.8 L243.7 594.7 L246.1 589.5 L248.6 584.4 L251.3 579.3 L254.1 574.2 L257 569.2 L260 564.2 L263.1 559.3 L266.3 554.5 L269.6 549.8 L273 545.1 L276.4 540.6 L279.9 536.2 L283.5 532 L287.1 527.9 L290.8 523.9 L294.4 520.1 L298.2 516.5 L301.9 513.1 L305.6 509.8 L309.3 506.8 L313 503.9 L316.7 501.3 L320.4 498.8 L324 496.6 L327.6 494.6 L331.1 492.9 L334.6 491.4 L338 490.1 L341.3 489 L344.5 488.2 L347.6 487.7 L350.7 487.4 L353.6 487.3 L356.4 487.5 L359.1 487.9 L361.6 488.6 L364.1 489.5 L366.4 490.7 L368.5 492.1 L370.5 493.7" fill="none" stroke="#000" stroke-width="5.80" stroke-linecap="butt" stroke-linejoin="round"/><path d="M245.7 699.8 L243.4 698.8 L241.1 697.5 L239 696 L237.1 694.3 L235.3 692.3 L233.7 690.2 L232.2 687.7 L230.9 685.1 L229.8 682.3 L228.8 679.3 L228 676 L227.4 672.6 L227 669 L226.7 665.2 L226.6 661.3 L226.7 657.2 L227 653 L227.5 648.6 L228.1 644.1 L228.9 639.5 L229.9 634.8 L231.1 630 L232.4 625.1 L233.9 620.1 L235.5 615.1 L237.4 610 L239.3 604.9 L241.4 599.8 L243.7 594.7 L246.1 589.5 L248.6 584.4 L251.3 579.3 L254.1 574.2 L257 569.2 L260 564.2 L263.1 559.3 L266.3 554.5 L269.6 549.8 L273 545.1 L276.4 540.6 L279.9 536.2 L283.5 532 L287.1 527.9 L290.8 523.9 L294.4 520.1 L298.2 516.5 L301.9 513.1 L305.6 509.8 L309.3 506.8 L313 503.9 L316.7 501.3 L320.4 498.8 L324 496.6 L327.6 494.6 L331.1 492.9 L334.6 491.4 L338 490.1 L341.3 489 L344.5 488.2 L347.6 487.7 L350.7 487.4 L353.6 487.3 L356.4 487.5 L359.1 487.9 L361.6 488.6 L364.1 489.5 L366.4 490.7 L368.5 492.1 L370.5 493.7" fill="none" stroke="#fff" stroke-width="3.30" stroke-linecap="butt" stroke-linejoin="round"/>
<path d="M96.6 361.7 L99.6 361.7 L99.4 485 Q99 489.5 95.5 491.5 L96.6 480Z" fill="#fff" stroke="#000" stroke-width="1.25" />
<path d="M75.5 361.7 L96.8 361.7 L96.8 486.5 Q96.8 493.7 89.5 493.7 L80.5 493.7 Q73.3 493.7 73.3 486.5 L73 364.5 Q73 361.7 75.5 361.7Z" fill="#fff" stroke="#000" stroke-width="1.35" />
<path d="M82.5 469.5 Q90 467.5 91.6 474 Q92.3 478.5 90.2 481 Q88 481.5 88.2 483.5 Q91 486.5 89.3 489 Q86 490.5 84.5 487 Q84 483 81 481.5 Q77.8 479.5 78.3 475.5Z" fill="#fff" stroke="#000" stroke-width="1.4"/>
<path d="M80 479.5 Q83.5 482 85.5 488.3" stroke="#000" stroke-width="2.2" fill="none"/>
<path d="M69.2 463.8 L81.3 474.6" stroke="#000" stroke-width="3.6" fill="none" stroke-linecap="round"/>
<path d="M69.6 463.5 L81 473.7" stroke="#fff" stroke-width="0.6" fill="none"/>
<circle cx="80.3" cy="476.6" r="2.3" fill="#fff" stroke="#000" stroke-width="1.5"/></g></defs>
<path d="M91 78 L503.5 215.5 L479.6 224.6 L91 96.3Z" fill="#fff" stroke="#000" stroke-width="1.25" />
<path d="M88 75.2 Q90.5 73.2 93 74.2 L505 210.8 Q510.3 213 510.7 219 L507 218.4 Q506 216.3 503.5 215.5 L92 78.2 Q90.5 77.8 90 79.5Z" fill="#fff" stroke="#000" stroke-width="1.25" />
<g transform="translate(101.2 89.6) rotate(-12)"><ellipse rx="8" ry="3.1" fill="#fff" stroke="#000" stroke-width="1.1"/><path d="M0.5 -3.1 L-0.8 3.1" stroke="#000" stroke-width="1" fill="none"/></g>
<g transform="translate(228.6 132.2) rotate(-18)"><ellipse rx="8" ry="3.1" fill="#fff" stroke="#000" stroke-width="1.1"/><path d="M0.5 -3.1 L-0.8 3.1" stroke="#000" stroke-width="1" fill="none"/></g>
<g transform="translate(243.4 136.7) rotate(-20)"><ellipse rx="8" ry="3.1" fill="#fff" stroke="#000" stroke-width="1.1"/><path d="M0.5 -3.1 L-0.8 3.1" stroke="#000" stroke-width="1" fill="none"/></g>
<g transform="translate(262.5 143.1) rotate(-20)"><ellipse rx="8" ry="3.1" fill="#fff" stroke="#000" stroke-width="1.1"/><path d="M0.5 -3.1 L-0.8 3.1" stroke="#000" stroke-width="1" fill="none"/></g>
<g transform="translate(285.2 150.4) rotate(-5)"><ellipse rx="8" ry="3.1" fill="#fff" stroke="#000" stroke-width="1.1"/><path d="M0.5 -3.1 L-0.8 3.1" stroke="#000" stroke-width="1" fill="none"/></g>
<g transform="translate(317.6 161.3) rotate(8)"><ellipse rx="8" ry="3.1" fill="#fff" stroke="#000" stroke-width="1.1"/><path d="M0.5 -3.1 L-0.8 3.1" stroke="#000" stroke-width="1" fill="none"/></g>
<g transform="translate(342.4 169.3) rotate(12)"><ellipse rx="8" ry="3.1" fill="#fff" stroke="#000" stroke-width="1.1"/><path d="M0.5 -3.1 L-0.8 3.1" stroke="#000" stroke-width="1" fill="none"/></g>
<g transform="translate(469.8 212.4) rotate(4)"><ellipse rx="8" ry="3.1" fill="#fff" stroke="#000" stroke-width="1.1"/><path d="M0.5 -3.1 L-0.8 3.1" stroke="#000" stroke-width="1" fill="none"/></g>
<path d="M479.6 224.6 L480.8 247 Q481 252.6 486.5 252.3 L507.4 244.4 Q511.1 243 511.1 239.5 L510.7 219 L507 218.4Z" fill="#fff" stroke="#000" stroke-width="1.25" />
<path d="M481.6 227.4 L507 218.4" fill="none" stroke="#000" stroke-width="1" />
<path d="M507.4 218.6 L508.1 240.3 Q508.1 242.8 506.2 243.6 L484.5 251" fill="none" stroke="#000" stroke-width="1" />
<ellipse cx="492.6" cy="235.3" rx="5.2" ry="5.2" fill="#000"/><ellipse cx="490.1" cy="234.5" rx="1.2" ry="2.2" fill="#fff" transform="rotate(15 490.1 234.5)"/>
<path d="M88 75.2 L64.5 83.2 Q61 84.5 61 88.5 L61.3 107 Q61.5 111.8 66 110.4 L87 103.5 Q90.7 102.2 90.7 98.5 L91 78 L90 79.5Z" fill="#fff" stroke="#000" stroke-width="1.25" />
<path d="M63 88 Q63.5 86 65.5 85.3 L86.5 78.2 Q88 78 88 80 L88 97 Q88 100.3 85 101.4 L65.5 107.8" fill="none" stroke="#000" stroke-width="1" />
<path d="M69 90.5 L75.5 92.5 Q78 96 76 100.5 L69.5 99Z" fill="#000"/>
<circle cx="65" cy="93.6" r="5.8" fill="#000"/><circle cx="64.6" cy="93.3" r="3.9" fill="none" stroke="#fff" stroke-width="0.55"/><circle cx="64.3" cy="93" r="2.2" fill="none" stroke="#fff" stroke-width="0.45"/><circle cx="63.6" cy="92.2" r="0.8" fill="#fff"/>
<path d="M56.8 91 L60 91.8" stroke="#000" stroke-width="1" fill="none"/>
<path d="M289 179 L291.2 205.5" fill="none" stroke="#000" stroke-width="3.00" stroke-linecap="butt" stroke-linejoin="round"/><path d="M289 179 L291.2 205.5" fill="none" stroke="#fff" stroke-width="1.20" stroke-linecap="butt" stroke-linejoin="round"/>
<path d="M290.9 202 L291.2 205.5" stroke="#000" stroke-width="3" fill="none"/>
<path d="M289 179 L299.2 202.3" fill="none" stroke="#000" stroke-width="3.00" stroke-linecap="butt" stroke-linejoin="round"/><path d="M289 179 L299.2 202.3" fill="none" stroke="#fff" stroke-width="1.20" stroke-linecap="butt" stroke-linejoin="round"/>
<path d="M297.8 199.1 L299.2 202.3" stroke="#000" stroke-width="3" fill="none"/>
<path d="M289 179 L304.2 196.8" fill="none" stroke="#000" stroke-width="3.00" stroke-linecap="butt" stroke-linejoin="round"/><path d="M289 179 L304.2 196.8" fill="none" stroke="#fff" stroke-width="1.20" stroke-linecap="butt" stroke-linejoin="round"/>
<path d="M301.9 194.1 L304.2 196.8" stroke="#000" stroke-width="3" fill="none"/>
<path d="M288.6 111.5C288.9 113.8 290.4 120.2 290.2 125C290 129.8 288.4 134.5 287.6 140C286.8 145.5 285.5 153 285.3 158C285.1 163 285.9 166.2 286.6 170C287.4 173.8 289.3 179.2 289.8 181" fill="none" stroke="#000" stroke-width="8.40" stroke-linecap="butt" stroke-linejoin="round"/><path d="M288.6 111.5C288.9 113.8 290.4 120.2 290.2 125C290 129.8 288.4 134.5 287.6 140C286.8 145.5 285.5 153 285.3 158C285.1 163 285.9 166.2 286.6 170C287.4 173.8 289.3 179.2 289.8 181" fill="none" stroke="#fff" stroke-width="6.20" stroke-linecap="butt" stroke-linejoin="round"/>
<ellipse cx="288.4" cy="110.8" rx="5.9" ry="2.3" fill="#fff" stroke="#000" stroke-width="1.2" transform="rotate(-6 288.4 110.8)"/>
<path d="M102.5 22.5 L102.5 147" fill="none" stroke="#000" stroke-width="1.2" stroke-dasharray="6.8 2.4"/>
<path d="M467.5 144.5 L467.5 269" fill="none" stroke="#000" stroke-width="1.2" stroke-dasharray="6.8 2.4"/>
<ellipse cx="102.5" cy="20" rx="7" ry="2.5" fill="#fff" stroke="#000" stroke-width="1.1"/>
<path d="M492.4 99.8 L467.5 139.6 L505.6 112.2 A58 58 0 1 0 492.4 99.8 Z" fill="#fff" stroke="#000" stroke-width="1.30" />
<path d="M534.4 11.4 L532.5 12.5 L530.2 18.4 L527.6 27.6 L527.6 33.2 L530 33.2 L530 37 L527.6 37 L527.6 42.4 L530 42.4 L530 46.2 L527.6 46.2 L527.6 51.6 L530 51.6 L530 55.4 L527.6 55.4 L527.6 60.8 L530 60.8 L530 64.6 L527.6 64.6 L527.6 70 L527.4 95.9 L522.8 101.4 L522.8 106.9 L526.5 106.9 L526.5 112.8 L546 112.8 L546 106.9 L549.7 106.9 L549.7 101.4 L545.1 95.9 L544.9 70 L544.9 64.6 L542.5 64.6 L542.5 60.8 L544.9 60.8 L544.9 55.4 L542.5 55.4 L542.5 51.6 L544.9 51.6 L544.9 46.2 L542.5 46.2 L542.5 42.4 L544.9 42.4 L544.9 37 L542.5 37 L542.5 33.2 L544.9 33.2 L544.9 27.6 L542.3 18.4 L540 12.5 L538.1 11.4 L538.1 11.4 L538.1 70 L534.4 70Z" fill="#fff" stroke="#000" stroke-width="1.30" />
<ellipse cx="467.5" cy="142" rx="7.3" ry="2.6" fill="none" stroke="#000" stroke-width="1.1"/>
<g transform="translate(102.5 147.3)">
<path d="M-5 51.5 L-12.5 60 Q-13.5 63.5 -9 66 Q-1.5 69.5 6.5 66 Q11 63.5 10 60 L4.6 51.5Z" fill="#fff" stroke="#000" stroke-width="1.3"/>
<ellipse cx="-1.4" cy="62.3" rx="11" ry="5.4" fill="#fff" stroke="#000" stroke-width="1.3"/>
<path d="M-6.5 60.5 L3.8 64 M-4.6 64.3 L2.2 60.3" stroke="#000" stroke-width="1.6" fill="none"/>
<path d="M-4.2 30 L-5 52 Q0 54 4.6 52 L4.4 30Z" fill="#fff" stroke="#000" stroke-width="1.3"/>
<path d="M-3 31 L-3.6 51" stroke="#000" stroke-width="1.2" fill="none"/>
<path d="M0 0 L-3.6 6.5 L-4.6 12 L-4.4 30 L4.4 30 L4.6 12 L3.8 6.5Z" fill="#fff" stroke="#000" stroke-width="1.3"/>
<path d="M-4.6 8.9 L4.6 8" stroke="#000" stroke-width="1.1" fill="none"/>
<path d="M-4.6 11 L4.6 10.1" stroke="#000" stroke-width="1.1" fill="none"/>
<path d="M-4.6 13 L4.6 12.1" stroke="#000" stroke-width="1.1" fill="none"/>
<path d="M-4.6 15 L4.6 14.1" stroke="#000" stroke-width="1.1" fill="none"/>
<path d="M-4.6 17.1 L4.6 16.2" stroke="#000" stroke-width="1.1" fill="none"/>
<path d="M-4.6 19.1 L4.6 18.2" stroke="#000" stroke-width="1.1" fill="none"/>
<path d="M-4.6 21.2 L4.6 20.3" stroke="#000" stroke-width="1.1" fill="none"/>
<path d="M-4.6 23.2 L4.6 22.3" stroke="#000" stroke-width="1.1" fill="none"/>
<path d="M-4.6 25.3 L4.6 24.4" stroke="#000" stroke-width="1.1" fill="none"/>
<path d="M-4.6 27.3 L4.6 26.4" stroke="#000" stroke-width="1.1" fill="none"/>
<path d="M-4.6 29.4 L4.6 28.5" stroke="#000" stroke-width="1.1" fill="none"/>
<path d="M2.6 6 L3.4 29" stroke="#000" stroke-width="1.6" fill="none"/>
</g>
<g transform="translate(467.5 269.5)">
<path d="M-5 51.5 L-12.5 60 Q-13.5 63.5 -9 66 Q-1.5 69.5 6.5 66 Q11 63.5 10 60 L4.6 51.5Z" fill="#fff" stroke="#000" stroke-width="1.3"/>
<ellipse cx="-1.4" cy="62.3" rx="11" ry="5.4" fill="#fff" stroke="#000" stroke-width="1.3"/>
<path d="M-6.5 60.5 L3.8 64 M-4.6 64.3 L2.2 60.3" stroke="#000" stroke-width="1.6" fill="none"/>
<path d="M-4.2 30 L-5 52 Q0 54 4.6 52 L4.4 30Z" fill="#fff" stroke="#000" stroke-width="1.3"/>
<path d="M-3 31 L-3.6 51" stroke="#000" stroke-width="1.2" fill="none"/>
<path d="M0 0 L-3.6 6.5 L-4.6 12 L-4.4 30 L4.4 30 L4.6 12 L3.8 6.5Z" fill="#fff" stroke="#000" stroke-width="1.3"/>
<path d="M-4.6 8.9 L4.6 8" stroke="#000" stroke-width="1.1" fill="none"/>
<path d="M-4.6 11 L4.6 10.1" stroke="#000" stroke-width="1.1" fill="none"/>
<path d="M-4.6 13 L4.6 12.1" stroke="#000" stroke-width="1.1" fill="none"/>
<path d="M-4.6 15 L4.6 14.1" stroke="#000" stroke-width="1.1" fill="none"/>
<path d="M-4.6 17.1 L4.6 16.2" stroke="#000" stroke-width="1.1" fill="none"/>
<path d="M-4.6 19.1 L4.6 18.2" stroke="#000" stroke-width="1.1" fill="none"/>
<path d="M-4.6 21.2 L4.6 20.3" stroke="#000" stroke-width="1.1" fill="none"/>
<path d="M-4.6 23.2 L4.6 22.3" stroke="#000" stroke-width="1.1" fill="none"/>
<path d="M-4.6 25.3 L4.6 24.4" stroke="#000" stroke-width="1.1" fill="none"/>
<path d="M-4.6 27.3 L4.6 26.4" stroke="#000" stroke-width="1.1" fill="none"/>
<path d="M-4.6 29.4 L4.6 28.5" stroke="#000" stroke-width="1.1" fill="none"/>
<path d="M2.6 6 L3.4 29" stroke="#000" stroke-width="1.6" fill="none"/>
</g>
<path d="M42 313.8 L42 284.5 L79 271.6 Q81.2 271 81.2 273.5 L81.2 286.5 Q81 288.8 78 289 Q73.5 289.5 73 293 Q73 296.5 77 296 L85.5 293.3 Q87.8 292.5 87.8 290 L88.4 270.5 Q88.5 268.7 90.5 268 L108.75 262 L535 403.3 L535 431.3 L108.75 303.8Z" fill="#fff" stroke="#000" stroke-width="1.25" />
<path d="M108.75 262L108.75 303.8" fill="none" stroke="#000" stroke-width="1.25" />
<path d="M59.9 364.4C56.1 363.4 53.8 362.6 50 361.3C46.2 360 41.1 358.1 37.4 356.3C33.6 354.5 30.1 352.4 27.5 350.3C24.9 348.2 23 346 21.5 343.5C20 341 18.9 337.7 18.7 335.4C18.5 333.1 19.2 331.4 20.2 329.5C21.2 327.6 22.5 326 24.5 324.3C26.5 322.6 29.1 320.8 32 319.3C34.9 317.8 37.8 316.5 42 315.1C46.2 313.7 51.5 312 57 310.8C62.5 309.6 69.1 308.6 74.9 307.7C80.7 306.8 86.4 306 92 305.4C97.6 304.8 102.3 304.4 108.6 304.2C114.9 304 123.1 303.9 130 304.3C136.9 304.7 142.5 305 150 306.3C157.5 307.6 166.7 310 175 312.3C183.3 314.6 188.9 316.4 200 320C211.1 323.6 227.9 329.3 241.9 333.9C255.8 338.6 269.8 343.2 283.8 347.8C297.7 352.5 311.7 357.1 325.6 361.7C339.6 366.4 353.5 371 367.5 375.6C381.5 380.3 395.4 384.9 409.4 389.6C423.3 394.2 437.3 398.8 451.2 403.5C465.2 408.1 479.2 412.8 493.1 417.4C507.1 422 526.4 428.3 535 431.3C543.6 434.3 542 434 545 435.6C548 437.2 550.8 439 553 441C555.2 443 557.2 445.4 558.2 447.5C559.2 449.6 559.5 451.2 559.2 453.5C558.9 455.8 558 458.6 556.5 461C555 463.4 552.9 465.7 550.5 467.8C548.1 469.9 544.9 472.1 542 473.7C539.1 475.3 536.9 476.3 533.4 477.5C529.9 478.7 525.2 479.9 521 480.8C516.8 481.8 513.8 482.5 508 483.2C502.2 483.9 493.7 484.7 486.5 485.1C479.3 485.5 471.9 485.7 465 485.8C458.1 485.9 450.5 485.8 445 485.6C439.5 485.4 436.2 485.2 432 484.8C427.8 484.4 429.2 486 420 483.3C410.8 480.6 391 473.6 376.6 468.8C362.1 464 347.6 459.2 333.1 454.3C318.6 449.5 304.2 444.7 289.7 439.8C275.2 435 260.7 430.2 246.2 425.4C231.8 420.5 217.3 415.7 202.8 410.9C188.3 406 173.9 401.2 159.4 396.4C144.9 391.5 130.4 386.7 115.9 381.9C101.5 377.1 81.8 370.3 72.5 367.4C63.2 364.5 63.6 365.4 59.9 364.4Z" fill="#fff" stroke="#000" stroke-width="1.25" />
<path d="M20.2 329.5C20.9 328.6 22.5 326 24.5 324.3C26.5 322.6 29.1 320.8 32 319.3C34.9 317.8 37.8 316.5 42 315.1C46.2 313.7 51.5 312 57 310.8C62.5 309.6 69.1 308.6 74.9 307.7C80.7 306.8 86.4 306 92 305.4C97.6 304.8 102.3 304.4 108.6 304.2C114.9 304 123.1 303.9 130 304.3C136.9 304.7 142.5 305 150 306.3C157.5 307.6 166.7 310 175 312.3C183.3 314.6 188.9 316.4 200 320C211.1 323.6 227.9 329.3 241.9 333.9C255.8 338.6 269.8 343.2 283.8 347.8C297.7 352.5 311.7 357.1 325.6 361.7C339.6 366.4 353.5 371 367.5 375.6C381.5 380.3 395.4 384.9 409.4 389.6C423.3 394.2 437.3 398.8 451.2 403.5C465.2 408.1 479.2 412.8 493.1 417.4C507.1 422 528 429 535 431.3" fill="none" stroke="#000" stroke-width="2.15" stroke-linecap="round"/>
<path d="M18.7 335.4C18.9 334.4 19.2 331.4 20.2 329.5C21.2 327.6 23.8 325.2 24.5 324.3" fill="none" stroke="#000" stroke-width="1.7" stroke-linecap="round"/>
<path d="M535 431.3C536.7 432 543.3 434.9 545 435.6" fill="none" stroke="#000" stroke-width="2.1" stroke-linecap="round"/>
<path d="M545 435.6C546.3 436.5 551.7 440.1 553 441" fill="none" stroke="#000" stroke-width="2" stroke-linecap="round"/>
<path d="M553 441C553.9 442.1 557.3 446.4 558.2 447.5" fill="none" stroke="#000" stroke-width="1.9" stroke-linecap="round"/>
<path d="M558.2 447.5C558.4 448.5 559 452.5 559.2 453.5" fill="none" stroke="#000" stroke-width="1.75" stroke-linecap="round"/>
<path d="M559.2 453.5C558.8 454.8 557 459.8 556.5 461" fill="none" stroke="#000" stroke-width="1.6" stroke-linecap="round"/>
<path d="M556.5 461C555.5 462.1 551.5 466.7 550.5 467.8" fill="none" stroke="#000" stroke-width="1.45" stroke-linecap="round"/>
<use href="#lamp" transform="translate(322.8 104.6)"/>
<use href="#lamp"/>
<g transform="translate(322.8 104.6)"><path d="M71.7 392.2 L69.9 392.1 L68.1 392.1 L66.2 392.1 L64.4 392.2 L62.6 392.4 L60.8 392.7 L59.2 393.1 L57.7 393.7 L56.3 394.3 L55 395 L53.8 395.8 L52.7 396.7 L51.7 397.6 L50.7 398.5 L49.8 399.5 L48.9 400.5 L48.1 401.5 L47.4 402.6 L46.7 403.6 L46 404.8 L45.4 406 L44.9 407.3 L44.4 408.6 L43.9 409.9 L43.5 411.2 L43.2 412.5 L42.9 413.8 L42.7 415.2 L42.5 416.5 L42.4 417.7 L42.3 419 L42.3 420.3 L42.3 421.6 L42.4 422.8 L42.5 424.1 L42.7 425.3 L43 426.5 L43.2 427.7 L43.6 428.9 L43.9 430 L44.3 431.2 L44.7 432.3 L45.1 433.4 L45.5 434.5 L46 435.6 L46.6 436.8 L47.1 437.9 L47.7 439 L48.3 440.1 L49 441.2 L49.7 442.2 L50.4 443.2 L51.2 444.2 L51.9 445.2 L52.8 446.2 L53.6 447.1 L54.5 447.9 L55.5 448.7 L56.4 449.5 L57.3 450.2 L58.3 450.8 L59.2 451.4 L60.2 452 L61.1 452.6 L62 453.2 L63 453.7 L63.9 454.3 L64.9 454.9 L66.1 455.6 L67.2 456.2 L68.4 456.8 L69.6 457.4 L70.8 458 L72 458.6" fill="none" stroke="#000" stroke-width="1.2" /><path d="M71.4 400.3 L69.7 400.3 L68.1 400.3 L66.5 400.3 L65 400.4 L63.6 400.5 L62.5 400.7 L61.6 400.9 L60.9 401.2 L60.1 401.6 L59.3 402 L58.6 402.5 L57.9 403 L57.2 403.6 L56.6 404.3 L55.9 404.9 L55.3 405.6 L54.7 406.4 L54.2 407.2 L53.7 408 L53.2 408.7 L52.8 409.5 L52.4 410.4 L52.1 411.3 L51.8 412.3 L51.5 413.3 L51.2 414.4 L51 415.4 L50.8 416.4 L50.7 417.5 L50.6 418.4 L50.5 419.4 L50.5 420.3 L50.5 421.2 L50.6 422.1 L50.7 423 L50.8 423.9 L51 424.8 L51.2 425.7 L51.5 426.7 L51.7 427.6 L52 428.5 L52.4 429.5 L52.7 430.4 L53.1 431.3 L53.5 432.2 L53.9 433.2 L54.4 434.1 L54.9 435 L55.4 435.9 L55.9 436.8 L56.5 437.6 L57.1 438.4 L57.6 439.2 L58.2 440 L58.8 440.6 L59.4 441.3 L60 441.8 L60.7 442.4 L61.4 443 L62.1 443.5 L62.9 444 L63.7 444.6 L64.5 445.1 L65.4 445.6 L66.3 446.2 L67.2 446.7 L68.1 447.3 L69 447.8 L70 448.4 L71.1 449 L72.2 449.5" fill="none" stroke="#000" stroke-width="1.2" /></g>
<path d="M53.2 476.7 L60.3 476.7 M63.3 476.7 L78 476.7" fill="none" stroke="#000" stroke-width="1.2" />
<path d="M726 744.5 L739.5 744.2 Q748 745.5 756 750.3 Q731 778 730 812.5 Q720.5 810.5 714 803.5 L706.5 796.5 Q700 770 726 744.5Z" fill="#fff" stroke="none"/>
<circle cx="789.5" cy="800.5" r="60" fill="none" stroke="#000" stroke-width="1.3" stroke-dasharray="5.5 2.6"/>
<path d="M739.5 744.2 Q748 745.5 756 750.3" fill="none" stroke="#000" stroke-width="1.3" />
<path d="M706.8 798.5 Q712 806 720.7 809.5 L730 812.5" fill="none" stroke="#000" stroke-width="1.3" />
<path d="M726 744.8 L739.5 744.2" fill="none" stroke="#000" stroke-width="1.3" stroke-dasharray="5.5 2.6"/>
<path d="M739.5 744.2 Q712 764 716 780 Q716.5 797 721 809.5" fill="none" stroke="#000" stroke-width="1.3" stroke-dasharray="5.5 2.6"/>
<path d="M726.5 744.8 Q704 764 705.5 780 Q705.5 790 707 798" fill="none" stroke="#000" stroke-width="1.3" stroke-dasharray="5.5 2.6"/>
<path d="M689.6 743.8 Q668.3 769.3 687.3 787.6" stroke="#000" stroke-width="3.2" fill="none" stroke-linecap="butt"/>
<path d="M694.6 741 Q672 772.6 689.9 788.8" stroke="#000" stroke-width="3.2" fill="none" stroke-linecap="butt"/>
<path d="M699.6 739.3 Q675.7 775.2 692.6 789.9" stroke="#000" stroke-width="3.2" fill="none" stroke-linecap="butt"/>
<path d="M704.6 738.9 Q679.4 777.3 695.2 791.1" stroke="#000" stroke-width="3.2" fill="none" stroke-linecap="butt"/>
<path d="M709.5 739.3 Q683.1 778.9 697.8 792.2" stroke="#000" stroke-width="3.2" fill="none" stroke-linecap="butt"/>
<path d="M714.5 740.6 Q686.7 780.1 700.4 793.4" stroke="#000" stroke-width="3.2" fill="none" stroke-linecap="butt"/>
<path d="M719.5 742.6 Q690.4 781 703.1 794.5" stroke="#000" stroke-width="3.2" fill="none" stroke-linecap="butt"/>
<path d="M724.5 745.2 Q694.1 781.5 705.7 795.7" stroke="#000" stroke-width="1.6" fill="none" stroke-linecap="butt"/>
<path d="M688.3 744.6 Q703.5 735.5 724.5 745" fill="none" stroke="#000" stroke-width="1.6" />
<path d="M686.5 787.3 L705.8 796" fill="none" stroke="#000" stroke-width="1.6" />
<path d="M689.6 743.8 Q668.3 769.3 687.3 787.6" stroke="#fff" stroke-width="0.9" fill="none" stroke-dasharray="2.4 2.6" stroke-dashoffset="0"/>
<path d="M694.6 741 Q672 772.6 689.9 788.8" stroke="#fff" stroke-width="0.9" fill="none" stroke-dasharray="2.4 2.6" stroke-dashoffset="1.9"/>
<path d="M699.6 739.3 Q675.7 775.2 692.6 789.9" stroke="#fff" stroke-width="0.9" fill="none" stroke-dasharray="2.4 2.6" stroke-dashoffset="3.8"/>
<path d="M704.6 738.9 Q679.4 777.3 695.2 791.1" stroke="#fff" stroke-width="0.9" fill="none" stroke-dasharray="2.4 2.6" stroke-dashoffset="0.7"/>
<path d="M709.5 739.3 Q683.1 778.9 697.8 792.2" stroke="#fff" stroke-width="0.9" fill="none" stroke-dasharray="2.4 2.6" stroke-dashoffset="2.6"/>
<path d="M714.5 740.6 Q686.7 780.1 700.4 793.4" stroke="#fff" stroke-width="0.9" fill="none" stroke-dasharray="2.4 2.6" stroke-dashoffset="4.5"/>
<path d="M719.5 742.6 Q690.4 781 703.1 794.5" stroke="#fff" stroke-width="0.9" fill="none" stroke-dasharray="2.4 2.6" stroke-dashoffset="1.4"/>
</svg></body></html>
